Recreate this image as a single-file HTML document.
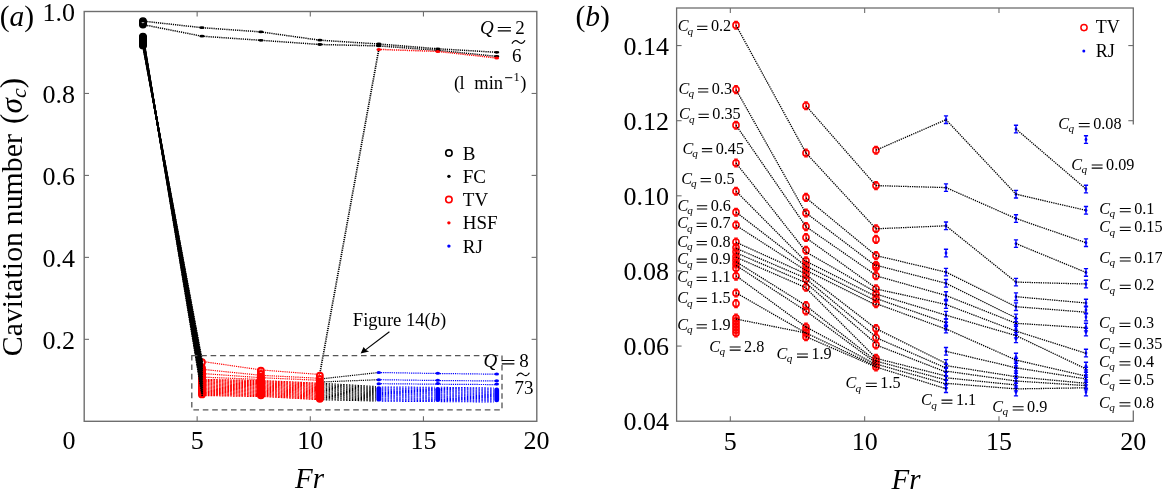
<!DOCTYPE html>
<html><head><meta charset="utf-8"><style>
html,body{margin:0;padding:0;background:#fff;width:1162px;height:495px;overflow:hidden}
svg{display:block;will-change:transform}
</style></head><body>
<svg width="1162" height="495" viewBox="0 0 1162 495">
<rect width="1162" height="495" fill="#fff"/>
<polyline fill="none" points="142.96,21.1 201.93,27.7 260.89,31.9 319.85,40.2 378.81,44 437.78,48.8 496.74,52.3" stroke="#000" stroke-width="1.5" stroke-dasharray="1.2,0.95"/>
<polyline fill="none" points="142.96,24.6 201.93,36.2 260.89,40.3 319.85,44.5 378.81,45.9 437.78,50.3 496.74,56.4" stroke="#000" stroke-width="1.5" stroke-dasharray="1.2,0.95"/>
<polyline fill="none" points="378.81,49.4 437.78,51.4 496.74,58" stroke="#f00" stroke-width="1.5" stroke-dasharray="1.2,0.95"/>
<line x1="319.85" y1="373.5" x2="378.81" y2="49.4" stroke="#000" stroke-width="1.7" stroke-dasharray="1.2,0.95"/>
<circle cx="142.96" cy="36.8" r="3.2" fill="none" stroke="#000" stroke-width="1.5"/>
<circle cx="142.96" cy="37.46" r="3.2" fill="none" stroke="#000" stroke-width="1.5"/>
<circle cx="142.96" cy="38.12" r="3.2" fill="none" stroke="#000" stroke-width="1.5"/>
<circle cx="142.96" cy="38.78" r="3.2" fill="none" stroke="#000" stroke-width="1.5"/>
<circle cx="142.96" cy="39.45" r="3.2" fill="none" stroke="#000" stroke-width="1.5"/>
<circle cx="142.96" cy="40.11" r="3.2" fill="none" stroke="#000" stroke-width="1.5"/>
<circle cx="142.96" cy="40.77" r="3.2" fill="none" stroke="#000" stroke-width="1.5"/>
<circle cx="142.96" cy="41.43" r="3.2" fill="none" stroke="#000" stroke-width="1.5"/>
<circle cx="142.96" cy="42.09" r="3.2" fill="none" stroke="#000" stroke-width="1.5"/>
<circle cx="142.96" cy="42.75" r="3.2" fill="none" stroke="#000" stroke-width="1.5"/>
<circle cx="142.96" cy="43.42" r="3.2" fill="none" stroke="#000" stroke-width="1.5"/>
<circle cx="142.96" cy="44.08" r="3.2" fill="none" stroke="#000" stroke-width="1.5"/>
<circle cx="142.96" cy="44.74" r="3.2" fill="none" stroke="#000" stroke-width="1.5"/>
<circle cx="142.96" cy="45.4" r="3.2" fill="none" stroke="#000" stroke-width="1.5"/>
<circle cx="142.96" cy="21.1" r="3.1" fill="none" stroke="#000" stroke-width="1.7"/>
<circle cx="142.96" cy="22.3" r="3.1" fill="none" stroke="#000" stroke-width="1.7"/>
<circle cx="142.96" cy="23.5" r="3.1" fill="none" stroke="#000" stroke-width="1.7"/>
<circle cx="142.96" cy="24.6" r="3.1" fill="none" stroke="#000" stroke-width="1.7"/>
<ellipse cx="201.93" cy="27.7" rx="2.6" ry="1.4" fill="#000"/>
<ellipse cx="260.89" cy="31.9" rx="2.6" ry="1.4" fill="#000"/>
<ellipse cx="319.85" cy="40.2" rx="2.6" ry="1.4" fill="#000"/>
<ellipse cx="378.81" cy="44" rx="2.6" ry="1.4" fill="#000"/>
<ellipse cx="437.78" cy="48.8" rx="2.6" ry="1.4" fill="#000"/>
<ellipse cx="496.74" cy="52.3" rx="2.6" ry="1.4" fill="#000"/>
<ellipse cx="201.93" cy="36.2" rx="2.6" ry="1.4" fill="#000"/>
<ellipse cx="260.89" cy="40.3" rx="2.6" ry="1.4" fill="#000"/>
<ellipse cx="319.85" cy="44.5" rx="2.6" ry="1.4" fill="#000"/>
<ellipse cx="378.81" cy="45.9" rx="2.6" ry="1.4" fill="#000"/>
<ellipse cx="437.78" cy="50.3" rx="2.6" ry="1.4" fill="#000"/>
<ellipse cx="496.74" cy="56.4" rx="2.6" ry="1.4" fill="#000"/>
<ellipse cx="378.81" cy="49.4" rx="2.4" ry="1.5" fill="#f00"/>
<ellipse cx="437.78" cy="51.4" rx="2.4" ry="1.5" fill="#f00"/>
<ellipse cx="496.74" cy="58" rx="2.4" ry="1.5" fill="#f00"/>
<line x1="201.93" y1="361.4" x2="260.89" y2="369.9" stroke="#ff0000" stroke-width="1.2" stroke-dasharray="1.2,0.95"/>
<line x1="201.93" y1="369.3" x2="260.89" y2="375.3" stroke="#ff0000" stroke-width="1.2" stroke-dasharray="1.2,0.95"/>
<line x1="201.93" y1="373.5" x2="260.89" y2="377.7" stroke="#ff0000" stroke-width="1.2" stroke-dasharray="1.2,0.95"/>
<line x1="201.93" y1="377.1" x2="260.89" y2="379.5" stroke="#ff0000" stroke-width="1.2" stroke-dasharray="1.2,0.95"/>
<line x1="260.89" y1="369.9" x2="319.85" y2="374.5" stroke="#ff0000" stroke-width="1.2" stroke-dasharray="1.2,0.95"/>
<line x1="260.89" y1="375.3" x2="319.85" y2="378.3" stroke="#ff0000" stroke-width="1.2" stroke-dasharray="1.2,0.95"/>
<line x1="260.89" y1="377.7" x2="319.85" y2="380.3" stroke="#ff0000" stroke-width="1.2" stroke-dasharray="1.2,0.95"/>
<line x1="319.85" y1="379" x2="378.81" y2="372.5" stroke="#000" stroke-width="1.2" stroke-dasharray="1.2,0.95"/>
<line x1="319.85" y1="382" x2="378.81" y2="379.7" stroke="#000" stroke-width="1.2" stroke-dasharray="1.2,0.95"/>
<line x1="378.81" y1="372.5" x2="437.78" y2="373.5" stroke="#0000ff" stroke-width="1.2" stroke-dasharray="1.2,0.95"/>
<line x1="437.78" y1="373.5" x2="496.74" y2="374.2" stroke="#0000ff" stroke-width="1.2" stroke-dasharray="1.2,0.95"/>
<line x1="378.81" y1="379.7" x2="437.78" y2="380.5" stroke="#0000ff" stroke-width="1.2" stroke-dasharray="1.2,0.95"/>
<line x1="437.78" y1="380.5" x2="496.74" y2="381" stroke="#0000ff" stroke-width="1.2" stroke-dasharray="1.2,0.95"/>
<line x1="378.81" y1="383.7" x2="437.78" y2="384.2" stroke="#0000ff" stroke-width="1.2" stroke-dasharray="1.2,0.95"/>
<line x1="437.78" y1="384.2" x2="496.74" y2="384.6" stroke="#0000ff" stroke-width="1.2" stroke-dasharray="1.2,0.95"/>
<line x1="204.93" y1="379.5" x2="257.89" y2="380.5" stroke="#ff0000" stroke-width="1.2" stroke-dasharray="1.8,1.0"/>
<line x1="204.93" y1="380.57" x2="257.89" y2="381.57" stroke="#ff0000" stroke-width="1.2" stroke-dasharray="1.8,1.0"/>
<line x1="204.93" y1="381.63" x2="257.89" y2="382.63" stroke="#ff0000" stroke-width="1.2" stroke-dasharray="1.8,1.0"/>
<line x1="204.93" y1="382.7" x2="257.89" y2="383.7" stroke="#ff0000" stroke-width="1.2" stroke-dasharray="1.8,1.0"/>
<line x1="204.93" y1="383.77" x2="257.89" y2="384.77" stroke="#ff0000" stroke-width="1.2" stroke-dasharray="1.8,1.0"/>
<line x1="204.93" y1="384.83" x2="257.89" y2="385.83" stroke="#ff0000" stroke-width="1.2" stroke-dasharray="1.8,1.0"/>
<line x1="204.93" y1="385.9" x2="257.89" y2="386.9" stroke="#ff0000" stroke-width="1.2" stroke-dasharray="1.8,1.0"/>
<line x1="204.93" y1="386.97" x2="257.89" y2="387.97" stroke="#ff0000" stroke-width="1.2" stroke-dasharray="1.8,1.0"/>
<line x1="204.93" y1="388.03" x2="257.89" y2="389.03" stroke="#ff0000" stroke-width="1.2" stroke-dasharray="1.8,1.0"/>
<line x1="204.93" y1="389.1" x2="257.89" y2="390.1" stroke="#ff0000" stroke-width="1.2" stroke-dasharray="1.8,1.0"/>
<line x1="204.93" y1="390.17" x2="257.89" y2="391.17" stroke="#ff0000" stroke-width="1.2" stroke-dasharray="1.8,1.0"/>
<line x1="204.93" y1="391.23" x2="257.89" y2="392.23" stroke="#ff0000" stroke-width="1.2" stroke-dasharray="1.8,1.0"/>
<line x1="204.93" y1="392.3" x2="257.89" y2="393.3" stroke="#ff0000" stroke-width="1.2" stroke-dasharray="1.8,1.0"/>
<line x1="204.93" y1="393.37" x2="257.89" y2="394.37" stroke="#ff0000" stroke-width="1.2" stroke-dasharray="1.8,1.0"/>
<line x1="204.93" y1="394.43" x2="257.89" y2="395.43" stroke="#ff0000" stroke-width="1.2" stroke-dasharray="1.8,1.0"/>
<line x1="204.93" y1="395.5" x2="257.89" y2="396.5" stroke="#ff0000" stroke-width="1.2" stroke-dasharray="1.8,1.0"/>
<line x1="263.89" y1="380.7" x2="316.85" y2="383.1" stroke="#ff0000" stroke-width="1.2" stroke-dasharray="1.8,1.0"/>
<line x1="263.89" y1="381.75" x2="316.85" y2="384.19" stroke="#ff0000" stroke-width="1.2" stroke-dasharray="1.8,1.0"/>
<line x1="263.89" y1="382.81" x2="316.85" y2="385.29" stroke="#ff0000" stroke-width="1.2" stroke-dasharray="1.8,1.0"/>
<line x1="263.89" y1="383.86" x2="316.85" y2="386.38" stroke="#ff0000" stroke-width="1.2" stroke-dasharray="1.8,1.0"/>
<line x1="263.89" y1="384.91" x2="316.85" y2="387.47" stroke="#ff0000" stroke-width="1.2" stroke-dasharray="1.8,1.0"/>
<line x1="263.89" y1="385.97" x2="316.85" y2="388.57" stroke="#ff0000" stroke-width="1.2" stroke-dasharray="1.8,1.0"/>
<line x1="263.89" y1="387.02" x2="316.85" y2="389.66" stroke="#ff0000" stroke-width="1.2" stroke-dasharray="1.8,1.0"/>
<line x1="263.89" y1="388.07" x2="316.85" y2="390.75" stroke="#ff0000" stroke-width="1.2" stroke-dasharray="1.8,1.0"/>
<line x1="263.89" y1="389.13" x2="316.85" y2="391.85" stroke="#ff0000" stroke-width="1.2" stroke-dasharray="1.8,1.0"/>
<line x1="263.89" y1="390.18" x2="316.85" y2="392.94" stroke="#ff0000" stroke-width="1.2" stroke-dasharray="1.8,1.0"/>
<line x1="263.89" y1="391.23" x2="316.85" y2="394.03" stroke="#ff0000" stroke-width="1.2" stroke-dasharray="1.8,1.0"/>
<line x1="263.89" y1="392.29" x2="316.85" y2="395.13" stroke="#ff0000" stroke-width="1.2" stroke-dasharray="1.8,1.0"/>
<line x1="263.89" y1="393.34" x2="316.85" y2="396.22" stroke="#ff0000" stroke-width="1.2" stroke-dasharray="1.8,1.0"/>
<line x1="263.89" y1="394.39" x2="316.85" y2="397.31" stroke="#ff0000" stroke-width="1.2" stroke-dasharray="1.8,1.0"/>
<line x1="263.89" y1="395.45" x2="316.85" y2="398.41" stroke="#ff0000" stroke-width="1.2" stroke-dasharray="1.8,1.0"/>
<line x1="263.89" y1="396.5" x2="316.85" y2="399.5" stroke="#ff0000" stroke-width="1.2" stroke-dasharray="1.8,1.0"/>
<line x1="322.85" y1="383.3" x2="375.81" y2="386.5" stroke="#000" stroke-width="1.05" stroke-dasharray="1.5,1.4"/>
<line x1="322.85" y1="384.48" x2="375.81" y2="387.54" stroke="#000" stroke-width="1.05" stroke-dasharray="1.5,1.4"/>
<line x1="322.85" y1="385.66" x2="375.81" y2="388.57" stroke="#000" stroke-width="1.05" stroke-dasharray="1.5,1.4"/>
<line x1="322.85" y1="386.84" x2="375.81" y2="389.61" stroke="#000" stroke-width="1.05" stroke-dasharray="1.5,1.4"/>
<line x1="322.85" y1="388.01" x2="375.81" y2="390.64" stroke="#000" stroke-width="1.05" stroke-dasharray="1.5,1.4"/>
<line x1="322.85" y1="389.19" x2="375.81" y2="391.68" stroke="#000" stroke-width="1.05" stroke-dasharray="1.5,1.4"/>
<line x1="322.85" y1="390.37" x2="375.81" y2="392.71" stroke="#000" stroke-width="1.05" stroke-dasharray="1.5,1.4"/>
<line x1="322.85" y1="391.55" x2="375.81" y2="393.75" stroke="#000" stroke-width="1.05" stroke-dasharray="1.5,1.4"/>
<line x1="322.85" y1="392.73" x2="375.81" y2="394.79" stroke="#000" stroke-width="1.05" stroke-dasharray="1.5,1.4"/>
<line x1="322.85" y1="393.91" x2="375.81" y2="395.82" stroke="#000" stroke-width="1.05" stroke-dasharray="1.5,1.4"/>
<line x1="322.85" y1="395.09" x2="375.81" y2="396.86" stroke="#000" stroke-width="1.05" stroke-dasharray="1.5,1.4"/>
<line x1="322.85" y1="396.26" x2="375.81" y2="397.89" stroke="#000" stroke-width="1.05" stroke-dasharray="1.5,1.4"/>
<line x1="322.85" y1="397.44" x2="375.81" y2="398.93" stroke="#000" stroke-width="1.05" stroke-dasharray="1.5,1.4"/>
<line x1="322.85" y1="398.62" x2="375.81" y2="399.96" stroke="#000" stroke-width="1.05" stroke-dasharray="1.5,1.4"/>
<line x1="322.85" y1="399.8" x2="375.81" y2="401" stroke="#000" stroke-width="1.05" stroke-dasharray="1.5,1.4"/>
<line x1="381.81" y1="386.9" x2="434.78" y2="387.3" stroke="#0000ff" stroke-width="1.05" stroke-dasharray="1.5,1.4"/>
<line x1="381.81" y1="388" x2="434.78" y2="388.4" stroke="#0000ff" stroke-width="1.05" stroke-dasharray="1.5,1.4"/>
<line x1="381.81" y1="389.1" x2="434.78" y2="389.5" stroke="#0000ff" stroke-width="1.05" stroke-dasharray="1.5,1.4"/>
<line x1="381.81" y1="390.2" x2="434.78" y2="390.6" stroke="#0000ff" stroke-width="1.05" stroke-dasharray="1.5,1.4"/>
<line x1="381.81" y1="391.3" x2="434.78" y2="391.7" stroke="#0000ff" stroke-width="1.05" stroke-dasharray="1.5,1.4"/>
<line x1="381.81" y1="392.4" x2="434.78" y2="392.8" stroke="#0000ff" stroke-width="1.05" stroke-dasharray="1.5,1.4"/>
<line x1="381.81" y1="393.5" x2="434.78" y2="393.9" stroke="#0000ff" stroke-width="1.05" stroke-dasharray="1.5,1.4"/>
<line x1="381.81" y1="394.6" x2="434.78" y2="395" stroke="#0000ff" stroke-width="1.05" stroke-dasharray="1.5,1.4"/>
<line x1="381.81" y1="395.7" x2="434.78" y2="396.1" stroke="#0000ff" stroke-width="1.05" stroke-dasharray="1.5,1.4"/>
<line x1="381.81" y1="396.8" x2="434.78" y2="397.2" stroke="#0000ff" stroke-width="1.05" stroke-dasharray="1.5,1.4"/>
<line x1="381.81" y1="397.9" x2="434.78" y2="398.3" stroke="#0000ff" stroke-width="1.05" stroke-dasharray="1.5,1.4"/>
<line x1="381.81" y1="399" x2="434.78" y2="399.4" stroke="#0000ff" stroke-width="1.05" stroke-dasharray="1.5,1.4"/>
<line x1="381.81" y1="400.1" x2="434.78" y2="400.5" stroke="#0000ff" stroke-width="1.05" stroke-dasharray="1.5,1.4"/>
<line x1="381.81" y1="401.2" x2="434.78" y2="401.6" stroke="#0000ff" stroke-width="1.05" stroke-dasharray="1.5,1.4"/>
<line x1="440.78" y1="387.3" x2="493.74" y2="388" stroke="#0000ff" stroke-width="1.05" stroke-dasharray="1.5,1.4"/>
<line x1="440.78" y1="388.4" x2="493.74" y2="389.08" stroke="#0000ff" stroke-width="1.05" stroke-dasharray="1.5,1.4"/>
<line x1="440.78" y1="389.5" x2="493.74" y2="390.15" stroke="#0000ff" stroke-width="1.05" stroke-dasharray="1.5,1.4"/>
<line x1="440.78" y1="390.6" x2="493.74" y2="391.23" stroke="#0000ff" stroke-width="1.05" stroke-dasharray="1.5,1.4"/>
<line x1="440.78" y1="391.7" x2="493.74" y2="392.31" stroke="#0000ff" stroke-width="1.05" stroke-dasharray="1.5,1.4"/>
<line x1="440.78" y1="392.8" x2="493.74" y2="393.38" stroke="#0000ff" stroke-width="1.05" stroke-dasharray="1.5,1.4"/>
<line x1="440.78" y1="393.9" x2="493.74" y2="394.46" stroke="#0000ff" stroke-width="1.05" stroke-dasharray="1.5,1.4"/>
<line x1="440.78" y1="395" x2="493.74" y2="395.54" stroke="#0000ff" stroke-width="1.05" stroke-dasharray="1.5,1.4"/>
<line x1="440.78" y1="396.1" x2="493.74" y2="396.62" stroke="#0000ff" stroke-width="1.05" stroke-dasharray="1.5,1.4"/>
<line x1="440.78" y1="397.2" x2="493.74" y2="397.69" stroke="#0000ff" stroke-width="1.05" stroke-dasharray="1.5,1.4"/>
<line x1="440.78" y1="398.3" x2="493.74" y2="398.77" stroke="#0000ff" stroke-width="1.05" stroke-dasharray="1.5,1.4"/>
<line x1="440.78" y1="399.4" x2="493.74" y2="399.85" stroke="#0000ff" stroke-width="1.05" stroke-dasharray="1.5,1.4"/>
<line x1="440.78" y1="400.5" x2="493.74" y2="400.92" stroke="#0000ff" stroke-width="1.05" stroke-dasharray="1.5,1.4"/>
<line x1="440.78" y1="401.6" x2="493.74" y2="402" stroke="#0000ff" stroke-width="1.05" stroke-dasharray="1.5,1.4"/>
<circle cx="201.93" cy="362.3" r="3.0" fill="none" stroke="#ff0000" stroke-width="1.9"/>
<circle cx="201.93" cy="368" r="3.0" fill="none" stroke="#ff0000" stroke-width="1.9"/>
<circle cx="201.93" cy="369.39" r="3.0" fill="none" stroke="#ff0000" stroke-width="1.9"/>
<circle cx="201.93" cy="370.78" r="3.0" fill="none" stroke="#ff0000" stroke-width="1.9"/>
<circle cx="201.93" cy="372.17" r="3.0" fill="none" stroke="#ff0000" stroke-width="1.9"/>
<circle cx="201.93" cy="373.56" r="3.0" fill="none" stroke="#ff0000" stroke-width="1.9"/>
<circle cx="201.93" cy="374.95" r="3.0" fill="none" stroke="#ff0000" stroke-width="1.9"/>
<circle cx="201.93" cy="376.34" r="3.0" fill="none" stroke="#ff0000" stroke-width="1.9"/>
<circle cx="201.93" cy="377.73" r="3.0" fill="none" stroke="#ff0000" stroke-width="1.9"/>
<circle cx="201.93" cy="379.12" r="3.0" fill="none" stroke="#ff0000" stroke-width="1.9"/>
<circle cx="201.93" cy="380.51" r="3.0" fill="none" stroke="#ff0000" stroke-width="1.9"/>
<circle cx="201.93" cy="381.9" r="3.0" fill="none" stroke="#ff0000" stroke-width="1.9"/>
<circle cx="201.93" cy="383.29" r="3.0" fill="none" stroke="#ff0000" stroke-width="1.9"/>
<circle cx="201.93" cy="384.68" r="3.0" fill="none" stroke="#ff0000" stroke-width="1.9"/>
<circle cx="201.93" cy="386.07" r="3.0" fill="none" stroke="#ff0000" stroke-width="1.9"/>
<circle cx="201.93" cy="387.46" r="3.0" fill="none" stroke="#ff0000" stroke-width="1.9"/>
<circle cx="201.93" cy="388.85" r="3.0" fill="none" stroke="#ff0000" stroke-width="1.9"/>
<circle cx="201.93" cy="390.24" r="3.0" fill="none" stroke="#ff0000" stroke-width="1.9"/>
<circle cx="201.93" cy="391.63" r="3.0" fill="none" stroke="#ff0000" stroke-width="1.9"/>
<circle cx="201.93" cy="393.02" r="3.0" fill="none" stroke="#ff0000" stroke-width="1.9"/>
<circle cx="201.93" cy="394.41" r="3.0" fill="none" stroke="#ff0000" stroke-width="1.9"/>
<circle cx="260.89" cy="370.7" r="3.0" fill="none" stroke="#ff0000" stroke-width="1.9"/>
<circle cx="260.89" cy="374" r="3.0" fill="none" stroke="#ff0000" stroke-width="1.9"/>
<circle cx="260.89" cy="377" r="3.0" fill="none" stroke="#ff0000" stroke-width="1.9"/>
<circle cx="260.89" cy="378.3" r="3.0" fill="none" stroke="#ff0000" stroke-width="1.9"/>
<circle cx="260.89" cy="379.6" r="3.0" fill="none" stroke="#ff0000" stroke-width="1.9"/>
<circle cx="260.89" cy="380.9" r="3.0" fill="none" stroke="#ff0000" stroke-width="1.9"/>
<circle cx="260.89" cy="382.2" r="3.0" fill="none" stroke="#ff0000" stroke-width="1.9"/>
<circle cx="260.89" cy="383.5" r="3.0" fill="none" stroke="#ff0000" stroke-width="1.9"/>
<circle cx="260.89" cy="384.8" r="3.0" fill="none" stroke="#ff0000" stroke-width="1.9"/>
<circle cx="260.89" cy="386.1" r="3.0" fill="none" stroke="#ff0000" stroke-width="1.9"/>
<circle cx="260.89" cy="387.4" r="3.0" fill="none" stroke="#ff0000" stroke-width="1.9"/>
<circle cx="260.89" cy="388.7" r="3.0" fill="none" stroke="#ff0000" stroke-width="1.9"/>
<circle cx="260.89" cy="390" r="3.0" fill="none" stroke="#ff0000" stroke-width="1.9"/>
<circle cx="260.89" cy="391.3" r="3.0" fill="none" stroke="#ff0000" stroke-width="1.9"/>
<circle cx="260.89" cy="392.6" r="3.0" fill="none" stroke="#ff0000" stroke-width="1.9"/>
<circle cx="260.89" cy="393.9" r="3.0" fill="none" stroke="#ff0000" stroke-width="1.9"/>
<circle cx="260.89" cy="395.2" r="3.0" fill="none" stroke="#ff0000" stroke-width="1.9"/>
<circle cx="319.85" cy="375.8" r="3.0" fill="none" stroke="#ff0000" stroke-width="1.9"/>
<circle cx="319.85" cy="379" r="3.0" fill="none" stroke="#ff0000" stroke-width="1.9"/>
<circle cx="319.85" cy="382" r="3.0" fill="none" stroke="#ff0000" stroke-width="1.9"/>
<circle cx="319.85" cy="383.2" r="3.0" fill="none" stroke="#ff0000" stroke-width="1.9"/>
<circle cx="319.85" cy="384.4" r="3.0" fill="none" stroke="#ff0000" stroke-width="1.9"/>
<circle cx="319.85" cy="385.6" r="3.0" fill="none" stroke="#ff0000" stroke-width="1.9"/>
<circle cx="319.85" cy="386.8" r="3.0" fill="none" stroke="#ff0000" stroke-width="1.9"/>
<circle cx="319.85" cy="388" r="3.0" fill="none" stroke="#ff0000" stroke-width="1.9"/>
<circle cx="319.85" cy="389.2" r="3.0" fill="none" stroke="#ff0000" stroke-width="1.9"/>
<circle cx="319.85" cy="390.4" r="3.0" fill="none" stroke="#ff0000" stroke-width="1.9"/>
<circle cx="319.85" cy="391.6" r="3.0" fill="none" stroke="#ff0000" stroke-width="1.9"/>
<circle cx="319.85" cy="392.8" r="3.0" fill="none" stroke="#ff0000" stroke-width="1.9"/>
<circle cx="319.85" cy="394" r="3.0" fill="none" stroke="#ff0000" stroke-width="1.9"/>
<circle cx="319.85" cy="395.2" r="3.0" fill="none" stroke="#ff0000" stroke-width="1.9"/>
<circle cx="319.85" cy="396.4" r="3.0" fill="none" stroke="#ff0000" stroke-width="1.9"/>
<circle cx="319.85" cy="397.6" r="3.0" fill="none" stroke="#ff0000" stroke-width="1.9"/>
<circle cx="319.85" cy="398.8" r="3.0" fill="none" stroke="#ff0000" stroke-width="1.9"/>
<ellipse cx="378.81" cy="372.5" rx="2.3" ry="1.5" fill="#0000ff"/>
<ellipse cx="378.81" cy="379.7" rx="2.3" ry="1.5" fill="#0000ff"/>
<ellipse cx="378.81" cy="383.7" rx="2.3" ry="1.5" fill="#0000ff"/>
<rect x="376.41" y="386.3" width="4.8" height="15.3" rx="2.2" fill="#0000ff"/>
<ellipse cx="437.78" cy="373.2" rx="2.3" ry="1.5" fill="#0000ff"/>
<ellipse cx="437.78" cy="380.3" rx="2.3" ry="1.5" fill="#0000ff"/>
<ellipse cx="437.78" cy="383.5" rx="2.3" ry="1.5" fill="#0000ff"/>
<rect x="435.38" y="387" width="4.8" height="15" rx="2.2" fill="#0000ff"/>
<ellipse cx="496.74" cy="373.9" rx="2.3" ry="1.5" fill="#0000ff"/>
<ellipse cx="496.74" cy="380.8" rx="2.3" ry="1.5" fill="#0000ff"/>
<ellipse cx="496.74" cy="384" rx="2.3" ry="1.5" fill="#0000ff"/>
<rect x="494.34" y="387.6" width="4.8" height="14.6" rx="2.2" fill="#0000ff"/>
<line x1="143.16" y1="37" x2="202.33" y2="396.5" stroke="#000" stroke-width="1.8" stroke-dasharray="1.5,0.9"/>
<line x1="143.16" y1="37.59" x2="202.33" y2="394.47" stroke="#000" stroke-width="1.8" stroke-dasharray="1.5,0.9"/>
<line x1="143.16" y1="38.18" x2="202.33" y2="392.44" stroke="#000" stroke-width="1.8" stroke-dasharray="1.5,0.9"/>
<line x1="143.16" y1="38.76" x2="202.33" y2="390.41" stroke="#000" stroke-width="1.8" stroke-dasharray="1.5,0.9"/>
<line x1="143.16" y1="39.35" x2="202.33" y2="388.38" stroke="#000" stroke-width="1.8" stroke-dasharray="1.5,0.9"/>
<line x1="143.16" y1="39.94" x2="202.33" y2="386.35" stroke="#000" stroke-width="1.8" stroke-dasharray="1.5,0.9"/>
<line x1="143.16" y1="40.53" x2="202.33" y2="384.32" stroke="#000" stroke-width="1.8" stroke-dasharray="1.5,0.9"/>
<line x1="143.16" y1="41.12" x2="202.33" y2="382.29" stroke="#000" stroke-width="1.8" stroke-dasharray="1.5,0.9"/>
<line x1="143.16" y1="41.71" x2="202.33" y2="380.26" stroke="#000" stroke-width="1.8" stroke-dasharray="1.5,0.9"/>
<line x1="143.16" y1="42.29" x2="202.33" y2="378.24" stroke="#000" stroke-width="1.8" stroke-dasharray="1.5,0.9"/>
<line x1="143.16" y1="42.88" x2="202.33" y2="376.21" stroke="#000" stroke-width="1.8" stroke-dasharray="1.5,0.9"/>
<line x1="143.16" y1="43.47" x2="202.33" y2="374.18" stroke="#000" stroke-width="1.8" stroke-dasharray="1.5,0.9"/>
<line x1="143.16" y1="44.06" x2="202.33" y2="372.15" stroke="#000" stroke-width="1.8" stroke-dasharray="1.5,0.9"/>
<line x1="143.16" y1="44.65" x2="202.33" y2="370.12" stroke="#000" stroke-width="1.8" stroke-dasharray="1.5,0.9"/>
<line x1="143.16" y1="45.24" x2="202.33" y2="368.09" stroke="#000" stroke-width="1.8" stroke-dasharray="1.5,0.9"/>
<line x1="143.16" y1="45.82" x2="202.33" y2="366.06" stroke="#000" stroke-width="1.8" stroke-dasharray="1.5,0.9"/>
<line x1="143.16" y1="46.41" x2="202.33" y2="364.03" stroke="#000" stroke-width="1.8" stroke-dasharray="1.5,0.9"/>
<line x1="143.16" y1="47" x2="202.33" y2="362" stroke="#000" stroke-width="1.8" stroke-dasharray="1.5,0.9"/>
<rect x="191.8" y="355.6" width="310.2" height="54.2" fill="none" stroke="#555" stroke-width="1.3" stroke-dasharray="5.6,3.8"/>
<rect x="84.2" y="11.5" width="452.6" height="409.8" fill="none" stroke="#6e6e6e" stroke-width="1.4"/>
<line x1="197.15" y1="421.3" x2="197.15" y2="416.3" stroke="#6e6e6e" stroke-width="1.1"/>
<line x1="197.15" y1="11.5" x2="197.15" y2="16.5" stroke="#6e6e6e" stroke-width="1.1"/>
<line x1="310.3" y1="421.3" x2="310.3" y2="416.3" stroke="#6e6e6e" stroke-width="1.1"/>
<line x1="310.3" y1="11.5" x2="310.3" y2="16.5" stroke="#6e6e6e" stroke-width="1.1"/>
<line x1="423.45" y1="421.3" x2="423.45" y2="416.3" stroke="#6e6e6e" stroke-width="1.1"/>
<line x1="423.45" y1="11.5" x2="423.45" y2="16.5" stroke="#6e6e6e" stroke-width="1.1"/>
<line x1="84" y1="339.34" x2="89" y2="339.34" stroke="#6e6e6e" stroke-width="1.1"/>
<line x1="536.6" y1="339.34" x2="531.6" y2="339.34" stroke="#6e6e6e" stroke-width="1.1"/>
<line x1="84" y1="257.38" x2="89" y2="257.38" stroke="#6e6e6e" stroke-width="1.1"/>
<line x1="536.6" y1="257.38" x2="531.6" y2="257.38" stroke="#6e6e6e" stroke-width="1.1"/>
<line x1="84" y1="175.42" x2="89" y2="175.42" stroke="#6e6e6e" stroke-width="1.1"/>
<line x1="536.6" y1="175.42" x2="531.6" y2="175.42" stroke="#6e6e6e" stroke-width="1.1"/>
<line x1="84" y1="93.46" x2="89" y2="93.46" stroke="#6e6e6e" stroke-width="1.1"/>
<line x1="536.6" y1="93.46" x2="531.6" y2="93.46" stroke="#6e6e6e" stroke-width="1.1"/>
<text x="74.9" y="21.1" font-size="26" text-anchor="end" style="font-family:'Liberation Serif',serif">1.0</text>
<text x="74.9" y="103.06" font-size="26" text-anchor="end" style="font-family:'Liberation Serif',serif">0.8</text>
<text x="74.9" y="185.02" font-size="26" text-anchor="end" style="font-family:'Liberation Serif',serif">0.6</text>
<text x="74.9" y="266.98" font-size="26" text-anchor="end" style="font-family:'Liberation Serif',serif">0.4</text>
<text x="74.9" y="348.94" font-size="26" text-anchor="end" style="font-family:'Liberation Serif',serif">0.2</text>
<text x="68.9" y="449.3" font-size="26" text-anchor="middle" style="font-family:'Liberation Serif',serif">0</text>
<text x="197.15" y="449.3" font-size="26" text-anchor="middle" style="font-family:'Liberation Serif',serif">5</text>
<text x="310.3" y="449.3" font-size="26" text-anchor="middle" style="font-family:'Liberation Serif',serif">10</text>
<text x="423.45" y="449.3" font-size="26" text-anchor="middle" style="font-family:'Liberation Serif',serif">15</text>
<text x="536.6" y="449.3" font-size="26" text-anchor="middle" style="font-family:'Liberation Serif',serif">20</text>
<text x="309.5" y="488.3" font-size="29" text-anchor="middle" style="font-family:'Liberation Serif',serif;font-style:italic">Fr</text>
<g transform="translate(21.8,0) rotate(-90)" style="font-family:'Liberation Serif',serif" font-size="29.8">
<text x="-356.2" y="0">Cavitation</text>
<text x="-225.2" y="0">number</text>
<text x="-123.9" y="0" font-size="31.2">(<tspan font-style="italic">σ</tspan><tspan font-style="italic" font-size="22" dy="4.3">c</tspan><tspan dy="-4.3">)</tspan></text>
</g>
<text x="-0.3" y="26.2" font-size="29.5" style="font-family:'Liberation Serif',serif">(<tspan font-style="italic">a</tspan>)</text>
<circle cx="448.9" cy="153.1" r="3.2" fill="#fff" stroke="#000" stroke-width="1.6"/>
<text x="462.8" y="159.7" font-size="19" text-anchor="start" style="font-family:'Liberation Serif',serif">B</text>
<ellipse cx="448.9" cy="176.35" rx="1.7" ry="1.7" fill="#000"/>
<text x="462.8" y="182.95" font-size="19" text-anchor="start" style="font-family:'Liberation Serif',serif">FC</text>
<circle cx="448.9" cy="199.6" r="3.2" fill="#fff" stroke="#ff0000" stroke-width="1.6"/>
<text x="462.8" y="206.2" font-size="19" text-anchor="start" style="font-family:'Liberation Serif',serif">TV</text>
<ellipse cx="448.9" cy="222.85" rx="1.7" ry="1.7" fill="#ff0000"/>
<text x="462.8" y="229.45" font-size="19" text-anchor="start" style="font-family:'Liberation Serif',serif">HSF</text>
<ellipse cx="448.9" cy="246.1" rx="1.7" ry="1.7" fill="#0000ff"/>
<text x="462.8" y="252.7" font-size="19" text-anchor="start" style="font-family:'Liberation Serif',serif">RJ</text>
<text x="479.9" y="34.0" font-size="19" style="font-family:'Liberation Serif',serif;font-style:italic">Q</text>
<path d="M497.8,27.5H510.9M497.8,30.9H510.9" stroke="#000" stroke-width="1.2"/>
<text x="515.2" y="34" font-size="19" text-anchor="start" style="font-family:'Liberation Serif',serif">2</text>
<path d="M511.9,43.6 C514.26,39.6 516.49,40.4 518.45,42 S522.64,44.4 525,40.4" fill="none" stroke="#000" stroke-width="1.2"/>
<text x="512.1" y="62.4" font-size="19" text-anchor="start" style="font-family:'Liberation Serif',serif">6</text>
<text x="453.9" y="88.6" font-size="18.5" text-anchor="start" style="font-family:'Liberation Serif',serif">(</text>
<text x="459.6" y="88.6" font-size="18.5" text-anchor="start" style="font-family:'Liberation Serif',serif">l</text>
<text x="474.3" y="88.6" font-size="18.5" text-anchor="start" style="font-family:'Liberation Serif',serif">min</text>
<line x1="505.1" y1="77.7" x2="512.3" y2="77.7" stroke="#000" stroke-width="1.0"/>
<text x="513.6" y="81.3" font-size="12.5" text-anchor="start" style="font-family:'Liberation Serif',serif">1</text>
<text x="520.3" y="88.6" font-size="18.5" text-anchor="start" style="font-family:'Liberation Serif',serif">)</text>
<text x="483.6" y="366.6" font-size="19" style="font-family:'Liberation Serif',serif;font-style:italic">Q</text>
<path d="M501.8,360.5H514.4M501.8,363.9H514.4" stroke="#000" stroke-width="1.2"/>
<text x="519.3" y="366.8" font-size="19" text-anchor="start" style="font-family:'Liberation Serif',serif">8</text>
<path d="M516.8,376 C519.07,372 521.21,372.8 523.1,374.4 S527.13,376.8 529.4,372.8" fill="none" stroke="#000" stroke-width="1.2"/>
<text x="514.6" y="394.2" font-size="19" text-anchor="start" style="font-family:'Liberation Serif',serif">73</text>
<text x="352.8" y="325.8" font-size="18.6" style="font-family:'Liberation Serif',serif">Figure 14(<tspan font-style="italic">b</tspan>)</text>
<line x1="389.4" y1="331.7" x2="364.5" y2="350.6" stroke="#000" stroke-width="1.15"/>
<path d="M360.6,353.6 L363.6,346.9 Q365.2,350.2 369.1,351.4 Z" fill="#000"/>
<path d="M734.2,21.3h3.6M734.2,29.1h3.6M736,21.3v7.8" stroke="#ff0000" stroke-width="1.3"/>
<circle cx="736" cy="25.2" r="3.05" fill="none" stroke="#ff0000" stroke-width="1.6"/>
<path d="M734.2,85.7h3.6M734.2,93.5h3.6M736,85.7v7.8" stroke="#ff0000" stroke-width="1.3"/>
<circle cx="736" cy="89.6" r="3.05" fill="none" stroke="#ff0000" stroke-width="1.6"/>
<path d="M734.2,121.3h3.6M734.2,129.1h3.6M736,121.3v7.8" stroke="#ff0000" stroke-width="1.3"/>
<circle cx="736" cy="125.2" r="3.05" fill="none" stroke="#ff0000" stroke-width="1.6"/>
<path d="M734.2,159.1h3.6M734.2,166.9h3.6M736,159.1v7.8" stroke="#ff0000" stroke-width="1.3"/>
<circle cx="736" cy="163" r="3.05" fill="none" stroke="#ff0000" stroke-width="1.6"/>
<path d="M734.2,187.4h3.6M734.2,195.2h3.6M736,187.4v7.8" stroke="#ff0000" stroke-width="1.3"/>
<circle cx="736" cy="191.3" r="3.05" fill="none" stroke="#ff0000" stroke-width="1.6"/>
<path d="M734.2,208.3h3.6M734.2,216.1h3.6M736,208.3v7.8" stroke="#ff0000" stroke-width="1.3"/>
<circle cx="736" cy="212.2" r="3.05" fill="none" stroke="#ff0000" stroke-width="1.6"/>
<path d="M734.2,221.1h3.6M734.2,228.9h3.6M736,221.1v7.8" stroke="#ff0000" stroke-width="1.3"/>
<circle cx="736" cy="225" r="3.05" fill="none" stroke="#ff0000" stroke-width="1.6"/>
<path d="M734.2,238.1h3.6M734.2,245.9h3.6M736,238.1v7.8" stroke="#ff0000" stroke-width="1.3"/>
<circle cx="736" cy="242" r="3.05" fill="none" stroke="#ff0000" stroke-width="1.6"/>
<path d="M734.2,243.7h3.6M734.2,251.5h3.6M736,243.7v7.8" stroke="#ff0000" stroke-width="1.3"/>
<circle cx="736" cy="247.6" r="3.05" fill="none" stroke="#ff0000" stroke-width="1.6"/>
<path d="M734.2,247.9h3.6M734.2,255.7h3.6M736,247.9v7.8" stroke="#ff0000" stroke-width="1.3"/>
<circle cx="736" cy="251.8" r="3.05" fill="none" stroke="#ff0000" stroke-width="1.6"/>
<path d="M734.2,252.8h3.6M734.2,260.6h3.6M736,252.8v7.8" stroke="#ff0000" stroke-width="1.3"/>
<circle cx="736" cy="256.7" r="3.05" fill="none" stroke="#ff0000" stroke-width="1.6"/>
<path d="M734.2,256.4h3.6M734.2,264.2h3.6M736,256.4v7.8" stroke="#ff0000" stroke-width="1.3"/>
<circle cx="736" cy="260.3" r="3.05" fill="none" stroke="#ff0000" stroke-width="1.6"/>
<path d="M734.2,260.1h3.6M734.2,267.9h3.6M736,260.1v7.8" stroke="#ff0000" stroke-width="1.3"/>
<circle cx="736" cy="264" r="3.05" fill="none" stroke="#ff0000" stroke-width="1.6"/>
<path d="M734.2,264h3.6M734.2,271.8h3.6M736,264v7.8" stroke="#ff0000" stroke-width="1.3"/>
<circle cx="736" cy="267.9" r="3.05" fill="none" stroke="#ff0000" stroke-width="1.6"/>
<path d="M734.2,272.2h3.6M734.2,280h3.6M736,272.2v7.8" stroke="#ff0000" stroke-width="1.3"/>
<circle cx="736" cy="276.1" r="3.05" fill="none" stroke="#ff0000" stroke-width="1.6"/>
<path d="M734.2,289.1h3.6M734.2,296.9h3.6M736,289.1v7.8" stroke="#ff0000" stroke-width="1.3"/>
<circle cx="736" cy="293" r="3.05" fill="none" stroke="#ff0000" stroke-width="1.6"/>
<path d="M734.2,299.7h3.6M734.2,307.5h3.6M736,299.7v7.8" stroke="#ff0000" stroke-width="1.3"/>
<circle cx="736" cy="303.6" r="3.05" fill="none" stroke="#ff0000" stroke-width="1.6"/>
<path d="M734.2,314.1h3.6M734.2,321.9h3.6M736,314.1v7.8" stroke="#ff0000" stroke-width="1.3"/>
<circle cx="736" cy="318" r="3.05" fill="none" stroke="#ff0000" stroke-width="1.6"/>
<path d="M734.2,317.1h3.6M734.2,324.9h3.6M736,317.1v7.8" stroke="#ff0000" stroke-width="1.3"/>
<circle cx="736" cy="321" r="3.05" fill="none" stroke="#ff0000" stroke-width="1.6"/>
<path d="M734.2,320.1h3.6M734.2,327.9h3.6M736,320.1v7.8" stroke="#ff0000" stroke-width="1.3"/>
<circle cx="736" cy="324" r="3.05" fill="none" stroke="#ff0000" stroke-width="1.6"/>
<path d="M734.2,323.1h3.6M734.2,330.9h3.6M736,323.1v7.8" stroke="#ff0000" stroke-width="1.3"/>
<circle cx="736" cy="327" r="3.05" fill="none" stroke="#ff0000" stroke-width="1.6"/>
<path d="M734.2,326.1h3.6M734.2,333.9h3.6M736,326.1v7.8" stroke="#ff0000" stroke-width="1.3"/>
<circle cx="736" cy="330" r="3.05" fill="none" stroke="#ff0000" stroke-width="1.6"/>
<path d="M734.2,329.1h3.6M734.2,336.9h3.6M736,329.1v7.8" stroke="#ff0000" stroke-width="1.3"/>
<circle cx="736" cy="333" r="3.05" fill="none" stroke="#ff0000" stroke-width="1.6"/>
<path d="M804.19,101.9h3.6M804.19,109.7h3.6M805.99,101.9v7.8" stroke="#ff0000" stroke-width="1.3"/>
<circle cx="805.99" cy="105.8" r="3.05" fill="none" stroke="#ff0000" stroke-width="1.6"/>
<path d="M804.19,149.1h3.6M804.19,156.9h3.6M805.99,149.1v7.8" stroke="#ff0000" stroke-width="1.3"/>
<circle cx="805.99" cy="153" r="3.05" fill="none" stroke="#ff0000" stroke-width="1.6"/>
<path d="M804.19,193.5h3.6M804.19,201.3h3.6M805.99,193.5v7.8" stroke="#ff0000" stroke-width="1.3"/>
<circle cx="805.99" cy="197.4" r="3.05" fill="none" stroke="#ff0000" stroke-width="1.6"/>
<path d="M804.19,209.1h3.6M804.19,216.9h3.6M805.99,209.1v7.8" stroke="#ff0000" stroke-width="1.3"/>
<circle cx="805.99" cy="213" r="3.05" fill="none" stroke="#ff0000" stroke-width="1.6"/>
<path d="M804.19,222.7h3.6M804.19,230.5h3.6M805.99,222.7v7.8" stroke="#ff0000" stroke-width="1.3"/>
<circle cx="805.99" cy="226.6" r="3.05" fill="none" stroke="#ff0000" stroke-width="1.6"/>
<path d="M804.19,233.6h3.6M804.19,241.4h3.6M805.99,233.6v7.8" stroke="#ff0000" stroke-width="1.3"/>
<circle cx="805.99" cy="237.5" r="3.05" fill="none" stroke="#ff0000" stroke-width="1.6"/>
<path d="M804.19,246.4h3.6M804.19,254.2h3.6M805.99,246.4v7.8" stroke="#ff0000" stroke-width="1.3"/>
<circle cx="805.99" cy="250.3" r="3.05" fill="none" stroke="#ff0000" stroke-width="1.6"/>
<path d="M804.19,257h3.6M804.19,264.8h3.6M805.99,257v7.8" stroke="#ff0000" stroke-width="1.3"/>
<circle cx="805.99" cy="260.9" r="3.05" fill="none" stroke="#ff0000" stroke-width="1.6"/>
<path d="M804.19,261.6h3.6M804.19,269.4h3.6M805.99,261.6v7.8" stroke="#ff0000" stroke-width="1.3"/>
<circle cx="805.99" cy="265.5" r="3.05" fill="none" stroke="#ff0000" stroke-width="1.6"/>
<path d="M804.19,266.1h3.6M804.19,273.9h3.6M805.99,266.1v7.8" stroke="#ff0000" stroke-width="1.3"/>
<circle cx="805.99" cy="270" r="3.05" fill="none" stroke="#ff0000" stroke-width="1.6"/>
<path d="M804.19,270.6h3.6M804.19,278.4h3.6M805.99,270.6v7.8" stroke="#ff0000" stroke-width="1.3"/>
<circle cx="805.99" cy="274.5" r="3.05" fill="none" stroke="#ff0000" stroke-width="1.6"/>
<path d="M804.19,275.1h3.6M804.19,282.9h3.6M805.99,275.1v7.8" stroke="#ff0000" stroke-width="1.3"/>
<circle cx="805.99" cy="279" r="3.05" fill="none" stroke="#ff0000" stroke-width="1.6"/>
<path d="M804.19,283.4h3.6M804.19,291.2h3.6M805.99,283.4v7.8" stroke="#ff0000" stroke-width="1.3"/>
<circle cx="805.99" cy="287.3" r="3.05" fill="none" stroke="#ff0000" stroke-width="1.6"/>
<path d="M804.19,301.6h3.6M804.19,309.4h3.6M805.99,301.6v7.8" stroke="#ff0000" stroke-width="1.3"/>
<circle cx="805.99" cy="305.5" r="3.05" fill="none" stroke="#ff0000" stroke-width="1.6"/>
<path d="M804.19,307.1h3.6M804.19,314.9h3.6M805.99,307.1v7.8" stroke="#ff0000" stroke-width="1.3"/>
<circle cx="805.99" cy="311" r="3.05" fill="none" stroke="#ff0000" stroke-width="1.6"/>
<path d="M804.19,323.1h3.6M804.19,330.9h3.6M805.99,323.1v7.8" stroke="#ff0000" stroke-width="1.3"/>
<circle cx="805.99" cy="327" r="3.05" fill="none" stroke="#ff0000" stroke-width="1.6"/>
<path d="M804.19,326.1h3.6M804.19,333.9h3.6M805.99,326.1v7.8" stroke="#ff0000" stroke-width="1.3"/>
<circle cx="805.99" cy="330" r="3.05" fill="none" stroke="#ff0000" stroke-width="1.6"/>
<path d="M804.19,329.1h3.6M804.19,336.9h3.6M805.99,329.1v7.8" stroke="#ff0000" stroke-width="1.3"/>
<circle cx="805.99" cy="333" r="3.05" fill="none" stroke="#ff0000" stroke-width="1.6"/>
<path d="M804.19,332.8h3.6M804.19,340.6h3.6M805.99,332.8v7.8" stroke="#ff0000" stroke-width="1.3"/>
<circle cx="805.99" cy="336.7" r="3.05" fill="none" stroke="#ff0000" stroke-width="1.6"/>
<path d="M874.19,146.3h3.6M874.19,154.1h3.6M875.99,146.3v7.8" stroke="#ff0000" stroke-width="1.3"/>
<circle cx="875.99" cy="150.2" r="3.05" fill="none" stroke="#ff0000" stroke-width="1.6"/>
<path d="M874.19,181.7h3.6M874.19,189.5h3.6M875.99,181.7v7.8" stroke="#ff0000" stroke-width="1.3"/>
<circle cx="875.99" cy="185.6" r="3.05" fill="none" stroke="#ff0000" stroke-width="1.6"/>
<path d="M874.19,224.9h3.6M874.19,232.7h3.6M875.99,224.9v7.8" stroke="#ff0000" stroke-width="1.3"/>
<circle cx="875.99" cy="228.8" r="3.05" fill="none" stroke="#ff0000" stroke-width="1.6"/>
<path d="M874.19,235.5h3.6M874.19,243.3h3.6M875.99,235.5v7.8" stroke="#ff0000" stroke-width="1.3"/>
<circle cx="875.99" cy="239.4" r="3.05" fill="none" stroke="#ff0000" stroke-width="1.6"/>
<path d="M874.19,251.6h3.6M874.19,259.4h3.6M875.99,251.6v7.8" stroke="#ff0000" stroke-width="1.3"/>
<circle cx="875.99" cy="255.5" r="3.05" fill="none" stroke="#ff0000" stroke-width="1.6"/>
<path d="M874.19,261.3h3.6M874.19,269.1h3.6M875.99,261.3v7.8" stroke="#ff0000" stroke-width="1.3"/>
<circle cx="875.99" cy="265.2" r="3.05" fill="none" stroke="#ff0000" stroke-width="1.6"/>
<path d="M874.19,263.4h3.6M874.19,271.2h3.6M875.99,263.4v7.8" stroke="#ff0000" stroke-width="1.3"/>
<circle cx="875.99" cy="267.3" r="3.05" fill="none" stroke="#ff0000" stroke-width="1.6"/>
<path d="M874.19,271.9h3.6M874.19,279.7h3.6M875.99,271.9v7.8" stroke="#ff0000" stroke-width="1.3"/>
<circle cx="875.99" cy="275.8" r="3.05" fill="none" stroke="#ff0000" stroke-width="1.6"/>
<path d="M874.19,284.9h3.6M874.19,292.7h3.6M875.99,284.9v7.8" stroke="#ff0000" stroke-width="1.3"/>
<circle cx="875.99" cy="288.8" r="3.05" fill="none" stroke="#ff0000" stroke-width="1.6"/>
<path d="M874.19,290.1h3.6M874.19,297.9h3.6M875.99,290.1v7.8" stroke="#ff0000" stroke-width="1.3"/>
<circle cx="875.99" cy="294" r="3.05" fill="none" stroke="#ff0000" stroke-width="1.6"/>
<path d="M874.19,294.6h3.6M874.19,302.4h3.6M875.99,294.6v7.8" stroke="#ff0000" stroke-width="1.3"/>
<circle cx="875.99" cy="298.5" r="3.05" fill="none" stroke="#ff0000" stroke-width="1.6"/>
<path d="M874.19,299.7h3.6M874.19,307.5h3.6M875.99,299.7v7.8" stroke="#ff0000" stroke-width="1.3"/>
<circle cx="875.99" cy="303.6" r="3.05" fill="none" stroke="#ff0000" stroke-width="1.6"/>
<path d="M874.19,324.7h3.6M874.19,332.5h3.6M875.99,324.7v7.8" stroke="#ff0000" stroke-width="1.3"/>
<circle cx="875.99" cy="328.6" r="3.05" fill="none" stroke="#ff0000" stroke-width="1.6"/>
<path d="M874.19,333.7h3.6M874.19,341.5h3.6M875.99,333.7v7.8" stroke="#ff0000" stroke-width="1.3"/>
<circle cx="875.99" cy="337.6" r="3.05" fill="none" stroke="#ff0000" stroke-width="1.6"/>
<path d="M874.19,341h3.6M874.19,348.8h3.6M875.99,341v7.8" stroke="#ff0000" stroke-width="1.3"/>
<circle cx="875.99" cy="344.9" r="3.05" fill="none" stroke="#ff0000" stroke-width="1.6"/>
<path d="M874.19,354.4h3.6M874.19,362.2h3.6M875.99,354.4v7.8" stroke="#ff0000" stroke-width="1.3"/>
<circle cx="875.99" cy="358.3" r="3.05" fill="none" stroke="#ff0000" stroke-width="1.6"/>
<path d="M874.19,357.1h3.6M874.19,364.9h3.6M875.99,357.1v7.8" stroke="#ff0000" stroke-width="1.3"/>
<circle cx="875.99" cy="361" r="3.05" fill="none" stroke="#ff0000" stroke-width="1.6"/>
<path d="M874.19,360.1h3.6M874.19,367.9h3.6M875.99,360.1v7.8" stroke="#ff0000" stroke-width="1.3"/>
<circle cx="875.99" cy="364" r="3.05" fill="none" stroke="#ff0000" stroke-width="1.6"/>
<path d="M874.19,363.1h3.6M874.19,370.9h3.6M875.99,363.1v7.8" stroke="#ff0000" stroke-width="1.3"/>
<circle cx="875.99" cy="367" r="3.05" fill="none" stroke="#ff0000" stroke-width="1.6"/>
<path d="M943.89,115.9h4.2M943.89,123.5h4.2M945.99,115.9v7.6" stroke="#0000ff" stroke-width="1.35" fill="none"/>
<ellipse cx="945.99" cy="119.7" rx="1.4" ry="1.7" fill="#0000ff"/>
<path d="M943.89,183.8h4.2M943.89,191.4h4.2M945.99,183.8v7.6" stroke="#0000ff" stroke-width="1.35" fill="none"/>
<ellipse cx="945.99" cy="187.6" rx="1.4" ry="1.7" fill="#0000ff"/>
<path d="M943.89,222h4.2M943.89,229.6h4.2M945.99,222v7.6" stroke="#0000ff" stroke-width="1.35" fill="none"/>
<ellipse cx="945.99" cy="225.8" rx="1.4" ry="1.7" fill="#0000ff"/>
<path d="M943.89,249.2h4.2M943.89,256.8h4.2M945.99,249.2v7.6" stroke="#0000ff" stroke-width="1.35" fill="none"/>
<ellipse cx="945.99" cy="253" rx="1.4" ry="1.7" fill="#0000ff"/>
<path d="M943.89,268.3h4.2M943.89,275.9h4.2M945.99,268.3v7.6" stroke="#0000ff" stroke-width="1.35" fill="none"/>
<ellipse cx="945.99" cy="272.1" rx="1.4" ry="1.7" fill="#0000ff"/>
<path d="M943.89,279.5h4.2M943.89,287.1h4.2M945.99,279.5v7.6" stroke="#0000ff" stroke-width="1.35" fill="none"/>
<ellipse cx="945.99" cy="283.3" rx="1.4" ry="1.7" fill="#0000ff"/>
<path d="M943.89,291.7h4.2M943.89,299.3h4.2M945.99,291.7v7.6" stroke="#0000ff" stroke-width="1.35" fill="none"/>
<ellipse cx="945.99" cy="295.5" rx="1.4" ry="1.7" fill="#0000ff"/>
<path d="M943.89,300.7h4.2M943.89,308.3h4.2M945.99,300.7v7.6" stroke="#0000ff" stroke-width="1.35" fill="none"/>
<ellipse cx="945.99" cy="304.5" rx="1.4" ry="1.7" fill="#0000ff"/>
<path d="M943.89,311.4h4.2M943.89,319h4.2M945.99,311.4v7.6" stroke="#0000ff" stroke-width="1.35" fill="none"/>
<ellipse cx="945.99" cy="315.2" rx="1.4" ry="1.7" fill="#0000ff"/>
<path d="M943.89,318.9h4.2M943.89,326.5h4.2M945.99,318.9v7.6" stroke="#0000ff" stroke-width="1.35" fill="none"/>
<ellipse cx="945.99" cy="322.7" rx="1.4" ry="1.7" fill="#0000ff"/>
<path d="M943.89,322.2h4.2M943.89,329.8h4.2M945.99,322.2v7.6" stroke="#0000ff" stroke-width="1.35" fill="none"/>
<ellipse cx="945.99" cy="326" rx="1.4" ry="1.7" fill="#0000ff"/>
<path d="M943.89,325.2h4.2M943.89,332.8h4.2M945.99,325.2v7.6" stroke="#0000ff" stroke-width="1.35" fill="none"/>
<ellipse cx="945.99" cy="329" rx="1.4" ry="1.7" fill="#0000ff"/>
<path d="M943.89,347.5h4.2M943.89,355.1h4.2M945.99,347.5v7.6" stroke="#0000ff" stroke-width="1.35" fill="none"/>
<ellipse cx="945.99" cy="351.3" rx="1.4" ry="1.7" fill="#0000ff"/>
<path d="M943.89,359.6h4.2M943.89,367.2h4.2M945.99,359.6v7.6" stroke="#0000ff" stroke-width="1.35" fill="none"/>
<ellipse cx="945.99" cy="363.4" rx="1.4" ry="1.7" fill="#0000ff"/>
<path d="M943.89,364.2h4.2M943.89,371.8h4.2M945.99,364.2v7.6" stroke="#0000ff" stroke-width="1.35" fill="none"/>
<ellipse cx="945.99" cy="368" rx="1.4" ry="1.7" fill="#0000ff"/>
<path d="M943.89,368.2h4.2M943.89,375.8h4.2M945.99,368.2v7.6" stroke="#0000ff" stroke-width="1.35" fill="none"/>
<ellipse cx="945.99" cy="372" rx="1.4" ry="1.7" fill="#0000ff"/>
<path d="M943.89,372.2h4.2M943.89,379.8h4.2M945.99,372.2v7.6" stroke="#0000ff" stroke-width="1.35" fill="none"/>
<ellipse cx="945.99" cy="376" rx="1.4" ry="1.7" fill="#0000ff"/>
<path d="M943.89,376.2h4.2M943.89,383.8h4.2M945.99,376.2v7.6" stroke="#0000ff" stroke-width="1.35" fill="none"/>
<ellipse cx="945.99" cy="380" rx="1.4" ry="1.7" fill="#0000ff"/>
<path d="M943.89,380.2h4.2M943.89,387.8h4.2M945.99,380.2v7.6" stroke="#0000ff" stroke-width="1.35" fill="none"/>
<ellipse cx="945.99" cy="384" rx="1.4" ry="1.7" fill="#0000ff"/>
<path d="M943.89,384.9h4.2M943.89,392.5h4.2M945.99,384.9v7.6" stroke="#0000ff" stroke-width="1.35" fill="none"/>
<ellipse cx="945.99" cy="388.7" rx="1.4" ry="1.7" fill="#0000ff"/>
<path d="M1013.88,125.2h4.2M1013.88,132.8h4.2M1015.98,125.2v7.6" stroke="#0000ff" stroke-width="1.35" fill="none"/>
<ellipse cx="1015.98" cy="129" rx="1.4" ry="1.7" fill="#0000ff"/>
<path d="M1013.88,190.4h4.2M1013.88,198h4.2M1015.98,190.4v7.6" stroke="#0000ff" stroke-width="1.35" fill="none"/>
<ellipse cx="1015.98" cy="194.2" rx="1.4" ry="1.7" fill="#0000ff"/>
<path d="M1013.88,214.7h4.2M1013.88,222.3h4.2M1015.98,214.7v7.6" stroke="#0000ff" stroke-width="1.35" fill="none"/>
<ellipse cx="1015.98" cy="218.5" rx="1.4" ry="1.7" fill="#0000ff"/>
<path d="M1013.88,239.8h4.2M1013.88,247.4h4.2M1015.98,239.8v7.6" stroke="#0000ff" stroke-width="1.35" fill="none"/>
<ellipse cx="1015.98" cy="243.6" rx="1.4" ry="1.7" fill="#0000ff"/>
<path d="M1013.88,278.3h4.2M1013.88,285.9h4.2M1015.98,278.3v7.6" stroke="#0000ff" stroke-width="1.35" fill="none"/>
<ellipse cx="1015.98" cy="282.1" rx="1.4" ry="1.7" fill="#0000ff"/>
<path d="M1013.88,292.9h4.2M1013.88,300.5h4.2M1015.98,292.9v7.6" stroke="#0000ff" stroke-width="1.35" fill="none"/>
<ellipse cx="1015.98" cy="296.7" rx="1.4" ry="1.7" fill="#0000ff"/>
<path d="M1013.88,302.9h4.2M1013.88,310.5h4.2M1015.98,302.9v7.6" stroke="#0000ff" stroke-width="1.35" fill="none"/>
<ellipse cx="1015.98" cy="306.7" rx="1.4" ry="1.7" fill="#0000ff"/>
<path d="M1013.88,314.1h4.2M1013.88,321.7h4.2M1015.98,314.1v7.6" stroke="#0000ff" stroke-width="1.35" fill="none"/>
<ellipse cx="1015.98" cy="317.9" rx="1.4" ry="1.7" fill="#0000ff"/>
<path d="M1013.88,318.6h4.2M1013.88,326.2h4.2M1015.98,318.6v7.6" stroke="#0000ff" stroke-width="1.35" fill="none"/>
<ellipse cx="1015.98" cy="322.4" rx="1.4" ry="1.7" fill="#0000ff"/>
<path d="M1013.88,324.7h4.2M1013.88,332.3h4.2M1015.98,324.7v7.6" stroke="#0000ff" stroke-width="1.35" fill="none"/>
<ellipse cx="1015.98" cy="328.5" rx="1.4" ry="1.7" fill="#0000ff"/>
<path d="M1013.88,330.2h4.2M1013.88,337.8h4.2M1015.98,330.2v7.6" stroke="#0000ff" stroke-width="1.35" fill="none"/>
<ellipse cx="1015.98" cy="334" rx="1.4" ry="1.7" fill="#0000ff"/>
<path d="M1013.88,335h4.2M1013.88,342.6h4.2M1015.98,335v7.6" stroke="#0000ff" stroke-width="1.35" fill="none"/>
<ellipse cx="1015.98" cy="338.8" rx="1.4" ry="1.7" fill="#0000ff"/>
<path d="M1013.88,353.2h4.2M1013.88,360.8h4.2M1015.98,353.2v7.6" stroke="#0000ff" stroke-width="1.35" fill="none"/>
<ellipse cx="1015.98" cy="357" rx="1.4" ry="1.7" fill="#0000ff"/>
<path d="M1013.88,358.2h4.2M1013.88,365.8h4.2M1015.98,358.2v7.6" stroke="#0000ff" stroke-width="1.35" fill="none"/>
<ellipse cx="1015.98" cy="362" rx="1.4" ry="1.7" fill="#0000ff"/>
<path d="M1013.88,363.2h4.2M1013.88,370.8h4.2M1015.98,363.2v7.6" stroke="#0000ff" stroke-width="1.35" fill="none"/>
<ellipse cx="1015.98" cy="367" rx="1.4" ry="1.7" fill="#0000ff"/>
<path d="M1013.88,368.2h4.2M1013.88,375.8h4.2M1015.98,368.2v7.6" stroke="#0000ff" stroke-width="1.35" fill="none"/>
<ellipse cx="1015.98" cy="372" rx="1.4" ry="1.7" fill="#0000ff"/>
<path d="M1013.88,373.2h4.2M1013.88,380.8h4.2M1015.98,373.2v7.6" stroke="#0000ff" stroke-width="1.35" fill="none"/>
<ellipse cx="1015.98" cy="377" rx="1.4" ry="1.7" fill="#0000ff"/>
<path d="M1013.88,378.2h4.2M1013.88,385.8h4.2M1015.98,378.2v7.6" stroke="#0000ff" stroke-width="1.35" fill="none"/>
<ellipse cx="1015.98" cy="382" rx="1.4" ry="1.7" fill="#0000ff"/>
<path d="M1013.88,383.2h4.2M1013.88,390.8h4.2M1015.98,383.2v7.6" stroke="#0000ff" stroke-width="1.35" fill="none"/>
<ellipse cx="1015.98" cy="387" rx="1.4" ry="1.7" fill="#0000ff"/>
<path d="M1013.88,388.2h4.2M1013.88,395.8h4.2M1015.98,388.2v7.6" stroke="#0000ff" stroke-width="1.35" fill="none"/>
<ellipse cx="1015.98" cy="392" rx="1.4" ry="1.7" fill="#0000ff"/>
<path d="M1083.88,135.7h4.2M1083.88,143.3h4.2M1085.98,135.7v7.6" stroke="#0000ff" stroke-width="1.35" fill="none"/>
<ellipse cx="1085.98" cy="139.5" rx="1.4" ry="1.7" fill="#0000ff"/>
<path d="M1083.88,185.2h4.2M1083.88,192.8h4.2M1085.98,185.2v7.6" stroke="#0000ff" stroke-width="1.35" fill="none"/>
<ellipse cx="1085.98" cy="189" rx="1.4" ry="1.7" fill="#0000ff"/>
<path d="M1083.88,206.5h4.2M1083.88,214.1h4.2M1085.98,206.5v7.6" stroke="#0000ff" stroke-width="1.35" fill="none"/>
<ellipse cx="1085.98" cy="210.3" rx="1.4" ry="1.7" fill="#0000ff"/>
<path d="M1083.88,238.9h4.2M1083.88,246.5h4.2M1085.98,238.9v7.6" stroke="#0000ff" stroke-width="1.35" fill="none"/>
<ellipse cx="1085.98" cy="242.7" rx="1.4" ry="1.7" fill="#0000ff"/>
<path d="M1083.88,268.6h4.2M1083.88,276.2h4.2M1085.98,268.6v7.6" stroke="#0000ff" stroke-width="1.35" fill="none"/>
<ellipse cx="1085.98" cy="272.4" rx="1.4" ry="1.7" fill="#0000ff"/>
<path d="M1083.88,280.2h4.2M1083.88,287.8h4.2M1085.98,280.2v7.6" stroke="#0000ff" stroke-width="1.35" fill="none"/>
<ellipse cx="1085.98" cy="284" rx="1.4" ry="1.7" fill="#0000ff"/>
<path d="M1083.88,299.2h4.2M1083.88,306.8h4.2M1085.98,299.2v7.6" stroke="#0000ff" stroke-width="1.35" fill="none"/>
<ellipse cx="1085.98" cy="303" rx="1.4" ry="1.7" fill="#0000ff"/>
<path d="M1083.88,306.2h4.2M1083.88,313.8h4.2M1085.98,306.2v7.6" stroke="#0000ff" stroke-width="1.35" fill="none"/>
<ellipse cx="1085.98" cy="310" rx="1.4" ry="1.7" fill="#0000ff"/>
<path d="M1083.88,313.2h4.2M1083.88,320.8h4.2M1085.98,313.2v7.6" stroke="#0000ff" stroke-width="1.35" fill="none"/>
<ellipse cx="1085.98" cy="317" rx="1.4" ry="1.7" fill="#0000ff"/>
<path d="M1083.88,323.2h4.2M1083.88,330.8h4.2M1085.98,323.2v7.6" stroke="#0000ff" stroke-width="1.35" fill="none"/>
<ellipse cx="1085.98" cy="327" rx="1.4" ry="1.7" fill="#0000ff"/>
<path d="M1083.88,328.2h4.2M1083.88,335.8h4.2M1085.98,328.2v7.6" stroke="#0000ff" stroke-width="1.35" fill="none"/>
<ellipse cx="1085.98" cy="332" rx="1.4" ry="1.7" fill="#0000ff"/>
<path d="M1083.88,349.2h4.2M1083.88,356.8h4.2M1085.98,349.2v7.6" stroke="#0000ff" stroke-width="1.35" fill="none"/>
<ellipse cx="1085.98" cy="353" rx="1.4" ry="1.7" fill="#0000ff"/>
<path d="M1083.88,362.2h4.2M1083.88,369.8h4.2M1085.98,362.2v7.6" stroke="#0000ff" stroke-width="1.35" fill="none"/>
<ellipse cx="1085.98" cy="366" rx="1.4" ry="1.7" fill="#0000ff"/>
<path d="M1083.88,367.2h4.2M1083.88,374.8h4.2M1085.98,367.2v7.6" stroke="#0000ff" stroke-width="1.35" fill="none"/>
<ellipse cx="1085.98" cy="371" rx="1.4" ry="1.7" fill="#0000ff"/>
<path d="M1083.88,372.2h4.2M1083.88,379.8h4.2M1085.98,372.2v7.6" stroke="#0000ff" stroke-width="1.35" fill="none"/>
<ellipse cx="1085.98" cy="376" rx="1.4" ry="1.7" fill="#0000ff"/>
<path d="M1083.88,377.2h4.2M1083.88,384.8h4.2M1085.98,377.2v7.6" stroke="#0000ff" stroke-width="1.35" fill="none"/>
<ellipse cx="1085.98" cy="381" rx="1.4" ry="1.7" fill="#0000ff"/>
<path d="M1083.88,382.2h4.2M1083.88,389.8h4.2M1085.98,382.2v7.6" stroke="#0000ff" stroke-width="1.35" fill="none"/>
<ellipse cx="1085.98" cy="386" rx="1.4" ry="1.7" fill="#0000ff"/>
<path d="M1083.88,388.2h4.2M1083.88,395.8h4.2M1085.98,388.2v7.6" stroke="#0000ff" stroke-width="1.35" fill="none"/>
<ellipse cx="1085.98" cy="392" rx="1.4" ry="1.7" fill="#0000ff"/>
<line x1="736" y1="25.2" x2="805.99" y2="153" stroke="#000" stroke-width="1.3" stroke-dasharray="1.3,0.95"/>
<line x1="736" y1="89.6" x2="805.99" y2="213.4" stroke="#000" stroke-width="1.3" stroke-dasharray="1.3,0.95"/>
<line x1="736" y1="125.2" x2="805.99" y2="226.6" stroke="#000" stroke-width="1.3" stroke-dasharray="1.3,0.95"/>
<line x1="736" y1="163" x2="805.99" y2="251.7" stroke="#000" stroke-width="1.3" stroke-dasharray="1.3,0.95"/>
<line x1="736" y1="191.2" x2="805.99" y2="261.7" stroke="#000" stroke-width="1.3" stroke-dasharray="1.3,0.95"/>
<line x1="736" y1="212.1" x2="805.99" y2="266.1" stroke="#000" stroke-width="1.3" stroke-dasharray="1.3,0.95"/>
<line x1="736" y1="225.4" x2="805.99" y2="270.6" stroke="#000" stroke-width="1.3" stroke-dasharray="1.3,0.95"/>
<line x1="736" y1="242.3" x2="805.99" y2="273.9" stroke="#000" stroke-width="1.3" stroke-dasharray="1.3,0.95"/>
<line x1="736" y1="248.3" x2="805.99" y2="278.3" stroke="#000" stroke-width="1.3" stroke-dasharray="1.3,0.95"/>
<line x1="736" y1="252.8" x2="805.99" y2="282.8" stroke="#000" stroke-width="1.3" stroke-dasharray="1.3,0.95"/>
<line x1="736" y1="257.2" x2="805.99" y2="287.7" stroke="#000" stroke-width="1.3" stroke-dasharray="1.3,0.95"/>
<line x1="736" y1="261.7" x2="805.99" y2="305.5" stroke="#000" stroke-width="1.3" stroke-dasharray="1.3,0.95"/>
<line x1="736" y1="265.4" x2="805.99" y2="311" stroke="#000" stroke-width="1.3" stroke-dasharray="1.3,0.95"/>
<line x1="736" y1="275.7" x2="805.99" y2="327" stroke="#000" stroke-width="1.3" stroke-dasharray="1.3,0.95"/>
<line x1="736" y1="292.8" x2="805.99" y2="333" stroke="#000" stroke-width="1.3" stroke-dasharray="1.3,0.95"/>
<line x1="736" y1="319" x2="805.99" y2="333" stroke="#000" stroke-width="1.3" stroke-dasharray="1.3,0.95"/>
<line x1="805.99" y1="105.8" x2="875.99" y2="185.6" stroke="#000" stroke-width="1.3" stroke-dasharray="1.3,0.95"/>
<line x1="805.99" y1="153" x2="875.99" y2="228.8" stroke="#000" stroke-width="1.3" stroke-dasharray="1.3,0.95"/>
<line x1="805.99" y1="197.8" x2="875.99" y2="255.5" stroke="#000" stroke-width="1.3" stroke-dasharray="1.3,0.95"/>
<line x1="805.99" y1="212.9" x2="875.99" y2="266.1" stroke="#000" stroke-width="1.3" stroke-dasharray="1.3,0.95"/>
<line x1="805.99" y1="226.7" x2="875.99" y2="275.3" stroke="#000" stroke-width="1.3" stroke-dasharray="1.3,0.95"/>
<line x1="805.99" y1="237.8" x2="875.99" y2="288.1" stroke="#000" stroke-width="1.3" stroke-dasharray="1.3,0.95"/>
<line x1="805.99" y1="252" x2="875.99" y2="292.3" stroke="#000" stroke-width="1.3" stroke-dasharray="1.3,0.95"/>
<line x1="805.99" y1="261.2" x2="875.99" y2="296.5" stroke="#000" stroke-width="1.3" stroke-dasharray="1.3,0.95"/>
<line x1="805.99" y1="266.1" x2="875.99" y2="300.8" stroke="#000" stroke-width="1.3" stroke-dasharray="1.3,0.95"/>
<line x1="805.99" y1="270.4" x2="875.99" y2="305" stroke="#000" stroke-width="1.3" stroke-dasharray="1.3,0.95"/>
<line x1="805.99" y1="274.6" x2="875.99" y2="328.6" stroke="#000" stroke-width="1.3" stroke-dasharray="1.3,0.95"/>
<line x1="805.99" y1="278.9" x2="875.99" y2="336.8" stroke="#000" stroke-width="1.3" stroke-dasharray="1.3,0.95"/>
<line x1="805.99" y1="283.1" x2="875.99" y2="343.6" stroke="#000" stroke-width="1.3" stroke-dasharray="1.3,0.95"/>
<line x1="805.99" y1="288.1" x2="875.99" y2="358" stroke="#000" stroke-width="1.3" stroke-dasharray="1.3,0.95"/>
<line x1="805.99" y1="305.7" x2="875.99" y2="361" stroke="#000" stroke-width="1.3" stroke-dasharray="1.3,0.95"/>
<line x1="805.99" y1="311" x2="875.99" y2="363" stroke="#000" stroke-width="1.3" stroke-dasharray="1.3,0.95"/>
<line x1="805.99" y1="327" x2="875.99" y2="364.5" stroke="#000" stroke-width="1.3" stroke-dasharray="1.3,0.95"/>
<line x1="805.99" y1="333" x2="875.99" y2="366" stroke="#000" stroke-width="1.3" stroke-dasharray="1.3,0.95"/>
<line x1="805.99" y1="336.7" x2="875.99" y2="367" stroke="#000" stroke-width="1.3" stroke-dasharray="1.3,0.95"/>
<line x1="875.99" y1="150.2" x2="945.99" y2="119.7" stroke="#000" stroke-width="1.3" stroke-dasharray="1.3,0.95"/>
<line x1="875.99" y1="185.6" x2="945.99" y2="187.6" stroke="#000" stroke-width="1.3" stroke-dasharray="1.3,0.95"/>
<line x1="875.99" y1="228.8" x2="945.99" y2="225.8" stroke="#000" stroke-width="1.3" stroke-dasharray="1.3,0.95"/>
<line x1="875.99" y1="255.5" x2="945.99" y2="272.1" stroke="#000" stroke-width="1.3" stroke-dasharray="1.3,0.95"/>
<line x1="875.99" y1="265.2" x2="945.99" y2="283.3" stroke="#000" stroke-width="1.3" stroke-dasharray="1.3,0.95"/>
<line x1="875.99" y1="275.8" x2="945.99" y2="295.5" stroke="#000" stroke-width="1.3" stroke-dasharray="1.3,0.95"/>
<line x1="875.99" y1="288.8" x2="945.99" y2="304.5" stroke="#000" stroke-width="1.3" stroke-dasharray="1.3,0.95"/>
<line x1="875.99" y1="294" x2="945.99" y2="315.2" stroke="#000" stroke-width="1.3" stroke-dasharray="1.3,0.95"/>
<line x1="875.99" y1="298.5" x2="945.99" y2="322.7" stroke="#000" stroke-width="1.3" stroke-dasharray="1.3,0.95"/>
<line x1="875.99" y1="303.6" x2="945.99" y2="329" stroke="#000" stroke-width="1.3" stroke-dasharray="1.3,0.95"/>
<line x1="875.99" y1="328.6" x2="945.99" y2="363.4" stroke="#000" stroke-width="1.3" stroke-dasharray="1.3,0.95"/>
<line x1="875.99" y1="337.6" x2="945.99" y2="368" stroke="#000" stroke-width="1.3" stroke-dasharray="1.3,0.95"/>
<line x1="875.99" y1="344.9" x2="945.99" y2="372" stroke="#000" stroke-width="1.3" stroke-dasharray="1.3,0.95"/>
<line x1="875.99" y1="358.3" x2="945.99" y2="376" stroke="#000" stroke-width="1.3" stroke-dasharray="1.3,0.95"/>
<line x1="875.99" y1="361" x2="945.99" y2="380" stroke="#000" stroke-width="1.3" stroke-dasharray="1.3,0.95"/>
<line x1="875.99" y1="364" x2="945.99" y2="384" stroke="#000" stroke-width="1.3" stroke-dasharray="1.3,0.95"/>
<line x1="875.99" y1="367" x2="945.99" y2="388.7" stroke="#000" stroke-width="1.3" stroke-dasharray="1.3,0.95"/>
<line x1="945.99" y1="119.7" x2="1015.98" y2="194.2" stroke="#000" stroke-width="1.3" stroke-dasharray="1.3,0.95"/>
<line x1="945.99" y1="187.6" x2="1015.98" y2="218.5" stroke="#000" stroke-width="1.3" stroke-dasharray="1.3,0.95"/>
<line x1="945.99" y1="225.8" x2="1015.98" y2="282.1" stroke="#000" stroke-width="1.3" stroke-dasharray="1.3,0.95"/>
<line x1="945.99" y1="272.1" x2="1015.98" y2="306.7" stroke="#000" stroke-width="1.3" stroke-dasharray="1.3,0.95"/>
<line x1="945.99" y1="283.3" x2="1015.98" y2="317.9" stroke="#000" stroke-width="1.3" stroke-dasharray="1.3,0.95"/>
<line x1="945.99" y1="295.5" x2="1015.98" y2="323.3" stroke="#000" stroke-width="1.3" stroke-dasharray="1.3,0.95"/>
<line x1="945.99" y1="304.5" x2="1015.98" y2="331.1" stroke="#000" stroke-width="1.3" stroke-dasharray="1.3,0.95"/>
<line x1="945.99" y1="315.2" x2="1015.98" y2="335.6" stroke="#000" stroke-width="1.3" stroke-dasharray="1.3,0.95"/>
<line x1="945.99" y1="328.9" x2="1015.98" y2="360" stroke="#000" stroke-width="1.3" stroke-dasharray="1.3,0.95"/>
<line x1="945.99" y1="351.3" x2="1015.98" y2="367.8" stroke="#000" stroke-width="1.3" stroke-dasharray="1.3,0.95"/>
<line x1="945.99" y1="365.6" x2="1015.98" y2="376.7" stroke="#000" stroke-width="1.3" stroke-dasharray="1.3,0.95"/>
<line x1="945.99" y1="371.1" x2="1015.98" y2="381" stroke="#000" stroke-width="1.3" stroke-dasharray="1.3,0.95"/>
<line x1="945.99" y1="377.8" x2="1015.98" y2="385" stroke="#000" stroke-width="1.3" stroke-dasharray="1.3,0.95"/>
<line x1="945.99" y1="383.3" x2="1015.98" y2="388.9" stroke="#000" stroke-width="1.3" stroke-dasharray="1.3,0.95"/>
<line x1="1015.98" y1="129" x2="1085.98" y2="189" stroke="#000" stroke-width="1.3" stroke-dasharray="1.3,0.95"/>
<line x1="1015.98" y1="194.2" x2="1085.98" y2="210.3" stroke="#000" stroke-width="1.3" stroke-dasharray="1.3,0.95"/>
<line x1="1015.98" y1="218.5" x2="1085.98" y2="242.7" stroke="#000" stroke-width="1.3" stroke-dasharray="1.3,0.95"/>
<line x1="1015.98" y1="243.6" x2="1085.98" y2="272.4" stroke="#000" stroke-width="1.3" stroke-dasharray="1.3,0.95"/>
<line x1="1015.98" y1="282.1" x2="1085.98" y2="284" stroke="#000" stroke-width="1.3" stroke-dasharray="1.3,0.95"/>
<line x1="1015.98" y1="296.7" x2="1085.98" y2="303" stroke="#000" stroke-width="1.3" stroke-dasharray="1.3,0.95"/>
<line x1="1015.98" y1="306.7" x2="1085.98" y2="312.2" stroke="#000" stroke-width="1.3" stroke-dasharray="1.3,0.95"/>
<line x1="1015.98" y1="323.3" x2="1085.98" y2="327.8" stroke="#000" stroke-width="1.3" stroke-dasharray="1.3,0.95"/>
<line x1="1015.98" y1="331.1" x2="1085.98" y2="353.3" stroke="#000" stroke-width="1.3" stroke-dasharray="1.3,0.95"/>
<line x1="1015.98" y1="335.6" x2="1085.98" y2="368.9" stroke="#000" stroke-width="1.3" stroke-dasharray="1.3,0.95"/>
<line x1="1015.98" y1="360" x2="1085.98" y2="376" stroke="#000" stroke-width="1.3" stroke-dasharray="1.3,0.95"/>
<line x1="1015.98" y1="367.8" x2="1085.98" y2="378.9" stroke="#000" stroke-width="1.3" stroke-dasharray="1.3,0.95"/>
<line x1="1015.98" y1="376.7" x2="1085.98" y2="383.3" stroke="#000" stroke-width="1.3" stroke-dasharray="1.3,0.95"/>
<line x1="1015.98" y1="381" x2="1085.98" y2="385.6" stroke="#000" stroke-width="1.3" stroke-dasharray="1.3,0.95"/>
<line x1="1015.98" y1="388.9" x2="1085.98" y2="387.8" stroke="#000" stroke-width="1.3" stroke-dasharray="1.3,0.95"/>
<rect x="676.6" y="8.0" width="456.7" height="413.2" fill="none" stroke="#6e6e6e" stroke-width="1.3"/>
<line x1="730.33" y1="421.2" x2="730.33" y2="416.2" stroke="#6e6e6e" stroke-width="1.1"/>
<line x1="730.33" y1="8" x2="730.33" y2="13" stroke="#6e6e6e" stroke-width="1.1"/>
<line x1="864.65" y1="421.2" x2="864.65" y2="416.2" stroke="#6e6e6e" stroke-width="1.1"/>
<line x1="864.65" y1="8" x2="864.65" y2="13" stroke="#6e6e6e" stroke-width="1.1"/>
<line x1="998.98" y1="421.2" x2="998.98" y2="416.2" stroke="#6e6e6e" stroke-width="1.1"/>
<line x1="998.98" y1="8" x2="998.98" y2="13" stroke="#6e6e6e" stroke-width="1.1"/>
<line x1="676.6" y1="346.07" x2="681.6" y2="346.07" stroke="#6e6e6e" stroke-width="1.1"/>
<line x1="1133.3" y1="346.07" x2="1128.3" y2="346.07" stroke="#6e6e6e" stroke-width="1.1"/>
<line x1="676.6" y1="270.95" x2="681.6" y2="270.95" stroke="#6e6e6e" stroke-width="1.1"/>
<line x1="1133.3" y1="270.95" x2="1128.3" y2="270.95" stroke="#6e6e6e" stroke-width="1.1"/>
<line x1="676.6" y1="195.82" x2="681.6" y2="195.82" stroke="#6e6e6e" stroke-width="1.1"/>
<line x1="1133.3" y1="195.82" x2="1128.3" y2="195.82" stroke="#6e6e6e" stroke-width="1.1"/>
<line x1="676.6" y1="120.69" x2="681.6" y2="120.69" stroke="#6e6e6e" stroke-width="1.1"/>
<line x1="1133.3" y1="120.69" x2="1128.3" y2="120.69" stroke="#6e6e6e" stroke-width="1.1"/>
<line x1="676.6" y1="45.56" x2="681.6" y2="45.56" stroke="#6e6e6e" stroke-width="1.1"/>
<line x1="1133.3" y1="45.56" x2="1128.3" y2="45.56" stroke="#6e6e6e" stroke-width="1.1"/>
<text x="668.9" y="54.76" font-size="26" text-anchor="end" style="font-family:'Liberation Serif',serif">0.14</text>
<text x="668.9" y="129.89" font-size="26" text-anchor="end" style="font-family:'Liberation Serif',serif">0.12</text>
<text x="668.9" y="205.02" font-size="26" text-anchor="end" style="font-family:'Liberation Serif',serif">0.10</text>
<text x="668.9" y="280.15" font-size="26" text-anchor="end" style="font-family:'Liberation Serif',serif">0.08</text>
<text x="668.9" y="355.27" font-size="26" text-anchor="end" style="font-family:'Liberation Serif',serif">0.06</text>
<text x="668.9" y="430.4" font-size="26" text-anchor="end" style="font-family:'Liberation Serif',serif">0.04</text>
<text x="730.33" y="449.5" font-size="26" text-anchor="middle" style="font-family:'Liberation Serif',serif">5</text>
<text x="864.65" y="449.5" font-size="26" text-anchor="middle" style="font-family:'Liberation Serif',serif">10</text>
<text x="998.98" y="449.5" font-size="26" text-anchor="middle" style="font-family:'Liberation Serif',serif">15</text>
<text x="1133.3" y="449.5" font-size="26" text-anchor="middle" style="font-family:'Liberation Serif',serif">20</text>
<text x="906" y="488.6" font-size="29" text-anchor="middle" style="font-family:'Liberation Serif',serif;font-style:italic">Fr</text>
<text x="575.5" y="26" font-size="29.5" style="font-family:'Liberation Serif',serif">(<tspan font-style="italic">b</tspan>)</text>
<circle cx="1084" cy="27.6" r="3.1" fill="#fff" stroke="#ff0000" stroke-width="1.5"/>
<text x="1095.7" y="33.4" font-size="18" text-anchor="start" style="font-family:'Liberation Serif',serif">TV</text>
<ellipse cx="1083.8" cy="50.9" rx="1.5" ry="1.5" fill="#0000ff"/>
<text x="1095.7" y="56.8" font-size="18" text-anchor="start" style="font-family:'Liberation Serif',serif">RJ</text>
<rect x="1128" y="124.5" width="34" height="286" fill="#fff"/>
<text x="677.7" y="31.4" font-size="16.2" style="font-family:'Liberation Serif',serif;font-style:italic">C</text>
<text x="687.5" y="34.7" font-size="11.2" style="font-family:'Liberation Serif',serif;font-style:italic">q</text>
<path d="M697.1,26.3H707.4M697.1,29.5H707.4" stroke="#000" stroke-width="1.05"/>
<text x="710.9" y="31.4" font-size="16.2" style="font-family:'Liberation Serif',serif">0.2</text>
<text x="678.6" y="93.8" font-size="16.2" style="font-family:'Liberation Serif',serif;font-style:italic">C</text>
<text x="688.4" y="97.1" font-size="11.2" style="font-family:'Liberation Serif',serif;font-style:italic">q</text>
<path d="M698,88.7H708.3M698,91.9H708.3" stroke="#000" stroke-width="1.05"/>
<text x="711.8" y="93.8" font-size="16.2" style="font-family:'Liberation Serif',serif">0.3</text>
<text x="679.1" y="119.3" font-size="16.2" style="font-family:'Liberation Serif',serif;font-style:italic">C</text>
<text x="688.9" y="122.6" font-size="11.2" style="font-family:'Liberation Serif',serif;font-style:italic">q</text>
<path d="M698.5,114.2H708.8M698.5,117.4H708.8" stroke="#000" stroke-width="1.05"/>
<text x="712.3" y="119.3" font-size="16.2" style="font-family:'Liberation Serif',serif">0.35</text>
<text x="682.5" y="153.7" font-size="16.2" style="font-family:'Liberation Serif',serif;font-style:italic">C</text>
<text x="692.3" y="157" font-size="11.2" style="font-family:'Liberation Serif',serif;font-style:italic">q</text>
<path d="M701.9,148.6H712.2M701.9,151.8H712.2" stroke="#000" stroke-width="1.05"/>
<text x="715.7" y="153.7" font-size="16.2" style="font-family:'Liberation Serif',serif">0.45</text>
<text x="681.2" y="183.6" font-size="16.2" style="font-family:'Liberation Serif',serif;font-style:italic">C</text>
<text x="691" y="186.9" font-size="11.2" style="font-family:'Liberation Serif',serif;font-style:italic">q</text>
<path d="M700.6,178.5H710.9M700.6,181.7H710.9" stroke="#000" stroke-width="1.05"/>
<text x="714.4" y="183.6" font-size="16.2" style="font-family:'Liberation Serif',serif">0.5</text>
<text x="677.5" y="210.8" font-size="16.2" style="font-family:'Liberation Serif',serif;font-style:italic">C</text>
<text x="687.3" y="214.1" font-size="11.2" style="font-family:'Liberation Serif',serif;font-style:italic">q</text>
<path d="M696.9,205.7H707.2M696.9,208.9H707.2" stroke="#000" stroke-width="1.05"/>
<text x="710.7" y="210.8" font-size="16.2" style="font-family:'Liberation Serif',serif">0.6</text>
<text x="677.2" y="228.4" font-size="16.2" style="font-family:'Liberation Serif',serif;font-style:italic">C</text>
<text x="687" y="231.7" font-size="11.2" style="font-family:'Liberation Serif',serif;font-style:italic">q</text>
<path d="M696.6,223.3H706.9M696.6,226.5H706.9" stroke="#000" stroke-width="1.05"/>
<text x="710.4" y="228.4" font-size="16.2" style="font-family:'Liberation Serif',serif">0.7</text>
<text x="677.2" y="246.6" font-size="16.2" style="font-family:'Liberation Serif',serif;font-style:italic">C</text>
<text x="687" y="249.9" font-size="11.2" style="font-family:'Liberation Serif',serif;font-style:italic">q</text>
<path d="M696.6,241.5H706.9M696.6,244.7H706.9" stroke="#000" stroke-width="1.05"/>
<text x="710.4" y="246.6" font-size="16.2" style="font-family:'Liberation Serif',serif">0.8</text>
<text x="677.2" y="264.2" font-size="16.2" style="font-family:'Liberation Serif',serif;font-style:italic">C</text>
<text x="687" y="267.5" font-size="11.2" style="font-family:'Liberation Serif',serif;font-style:italic">q</text>
<path d="M696.6,259.1H706.9M696.6,262.3H706.9" stroke="#000" stroke-width="1.05"/>
<text x="710.4" y="264.2" font-size="16.2" style="font-family:'Liberation Serif',serif">0.9</text>
<text x="677.2" y="282.4" font-size="16.2" style="font-family:'Liberation Serif',serif;font-style:italic">C</text>
<text x="687" y="285.7" font-size="11.2" style="font-family:'Liberation Serif',serif;font-style:italic">q</text>
<path d="M696.6,277.3H706.9M696.6,280.5H706.9" stroke="#000" stroke-width="1.05"/>
<text x="710.4" y="282.4" font-size="16.2" style="font-family:'Liberation Serif',serif">1.1</text>
<text x="677.2" y="303.3" font-size="16.2" style="font-family:'Liberation Serif',serif;font-style:italic">C</text>
<text x="687" y="306.6" font-size="11.2" style="font-family:'Liberation Serif',serif;font-style:italic">q</text>
<path d="M696.6,298.2H706.9M696.6,301.4H706.9" stroke="#000" stroke-width="1.05"/>
<text x="710.4" y="303.3" font-size="16.2" style="font-family:'Liberation Serif',serif">1.5</text>
<text x="677.2" y="329.9" font-size="16.2" style="font-family:'Liberation Serif',serif;font-style:italic">C</text>
<text x="687" y="333.2" font-size="11.2" style="font-family:'Liberation Serif',serif;font-style:italic">q</text>
<path d="M696.6,324.8H706.9M696.6,328H706.9" stroke="#000" stroke-width="1.05"/>
<text x="710.4" y="329.9" font-size="16.2" style="font-family:'Liberation Serif',serif">1.9</text>
<text x="1058.3" y="128.6" font-size="16.2" style="font-family:'Liberation Serif',serif;font-style:italic">C</text>
<text x="1068.5" y="131.9" font-size="11.2" style="font-family:'Liberation Serif',serif;font-style:italic">q</text>
<path d="M1078.8,123.5H1089.7M1078.8,126.7H1089.7" stroke="#000" stroke-width="1.05"/>
<text x="1093.2" y="128.6" font-size="16.2" style="font-family:'Liberation Serif',serif">0.08</text>
<text x="1071.2" y="170" font-size="16.2" style="font-family:'Liberation Serif',serif;font-style:italic">C</text>
<text x="1081.4" y="173.3" font-size="11.2" style="font-family:'Liberation Serif',serif;font-style:italic">q</text>
<path d="M1091.7,164.9H1102.6M1091.7,168.1H1102.6" stroke="#000" stroke-width="1.05"/>
<text x="1106.1" y="170" font-size="16.2" style="font-family:'Liberation Serif',serif">0.09</text>
<text x="1099.3" y="213.6" font-size="16.2" style="font-family:'Liberation Serif',serif;font-style:italic">C</text>
<text x="1109.5" y="216.9" font-size="11.2" style="font-family:'Liberation Serif',serif;font-style:italic">q</text>
<path d="M1119.8,208.5H1130.7M1119.8,211.7H1130.7" stroke="#000" stroke-width="1.05"/>
<text x="1134.2" y="213.6" font-size="16.2" style="font-family:'Liberation Serif',serif">0.1</text>
<text x="1099.3" y="232.4" font-size="16.2" style="font-family:'Liberation Serif',serif;font-style:italic">C</text>
<text x="1109.5" y="235.7" font-size="11.2" style="font-family:'Liberation Serif',serif;font-style:italic">q</text>
<path d="M1119.8,227.3H1130.7M1119.8,230.5H1130.7" stroke="#000" stroke-width="1.05"/>
<text x="1134.2" y="232.4" font-size="16.2" style="font-family:'Liberation Serif',serif">0.15</text>
<text x="1099.3" y="262.8" font-size="16.2" style="font-family:'Liberation Serif',serif;font-style:italic">C</text>
<text x="1109.5" y="266.1" font-size="11.2" style="font-family:'Liberation Serif',serif;font-style:italic">q</text>
<path d="M1119.8,257.7H1130.7M1119.8,260.9H1130.7" stroke="#000" stroke-width="1.05"/>
<text x="1134.2" y="262.8" font-size="16.2" style="font-family:'Liberation Serif',serif">0.17</text>
<text x="1099.3" y="290.3" font-size="16.2" style="font-family:'Liberation Serif',serif;font-style:italic">C</text>
<text x="1109.5" y="293.6" font-size="11.2" style="font-family:'Liberation Serif',serif;font-style:italic">q</text>
<path d="M1119.8,285.2H1130.7M1119.8,288.4H1130.7" stroke="#000" stroke-width="1.05"/>
<text x="1134.2" y="290.3" font-size="16.2" style="font-family:'Liberation Serif',serif">0.2</text>
<text x="1099" y="328.3" font-size="16.2" style="font-family:'Liberation Serif',serif;font-style:italic">C</text>
<text x="1109.2" y="331.6" font-size="11.2" style="font-family:'Liberation Serif',serif;font-style:italic">q</text>
<path d="M1119.5,323.2H1130.4M1119.5,326.4H1130.4" stroke="#000" stroke-width="1.05"/>
<text x="1133.9" y="328.3" font-size="16.2" style="font-family:'Liberation Serif',serif">0.3</text>
<text x="1099" y="348.6" font-size="16.2" style="font-family:'Liberation Serif',serif;font-style:italic">C</text>
<text x="1109.2" y="351.9" font-size="11.2" style="font-family:'Liberation Serif',serif;font-style:italic">q</text>
<path d="M1119.5,343.5H1130.4M1119.5,346.7H1130.4" stroke="#000" stroke-width="1.05"/>
<text x="1133.9" y="348.6" font-size="16.2" style="font-family:'Liberation Serif',serif">0.35</text>
<text x="1099" y="366.9" font-size="16.2" style="font-family:'Liberation Serif',serif;font-style:italic">C</text>
<text x="1109.2" y="370.2" font-size="11.2" style="font-family:'Liberation Serif',serif;font-style:italic">q</text>
<path d="M1119.5,361.8H1130.4M1119.5,365H1130.4" stroke="#000" stroke-width="1.05"/>
<text x="1133.9" y="366.9" font-size="16.2" style="font-family:'Liberation Serif',serif">0.4</text>
<text x="1099" y="385.3" font-size="16.2" style="font-family:'Liberation Serif',serif;font-style:italic">C</text>
<text x="1109.2" y="388.6" font-size="11.2" style="font-family:'Liberation Serif',serif;font-style:italic">q</text>
<path d="M1119.5,380.2H1130.4M1119.5,383.4H1130.4" stroke="#000" stroke-width="1.05"/>
<text x="1133.9" y="385.3" font-size="16.2" style="font-family:'Liberation Serif',serif">0.5</text>
<text x="1099" y="407.9" font-size="16.2" style="font-family:'Liberation Serif',serif;font-style:italic">C</text>
<text x="1109.2" y="411.2" font-size="11.2" style="font-family:'Liberation Serif',serif;font-style:italic">q</text>
<path d="M1119.5,402.8H1130.4M1119.5,406H1130.4" stroke="#000" stroke-width="1.05"/>
<text x="1133.9" y="407.9" font-size="16.2" style="font-family:'Liberation Serif',serif">0.8</text>
<text x="709.2" y="352" font-size="16.2" style="font-family:'Liberation Serif',serif;font-style:italic">C</text>
<text x="719.4" y="355.3" font-size="11.2" style="font-family:'Liberation Serif',serif;font-style:italic">q</text>
<path d="M729.7,346.9H740.6M729.7,350.1H740.6" stroke="#000" stroke-width="1.05"/>
<text x="744.1" y="352" font-size="16.2" style="font-family:'Liberation Serif',serif">2.8</text>
<text x="776.5" y="359" font-size="16.2" style="font-family:'Liberation Serif',serif;font-style:italic">C</text>
<text x="786.7" y="362.3" font-size="11.2" style="font-family:'Liberation Serif',serif;font-style:italic">q</text>
<path d="M797,353.9H807.9M797,357.1H807.9" stroke="#000" stroke-width="1.05"/>
<text x="811.4" y="359" font-size="16.2" style="font-family:'Liberation Serif',serif">1.9</text>
<text x="845.4" y="388.3" font-size="16.2" style="font-family:'Liberation Serif',serif;font-style:italic">C</text>
<text x="855.6" y="391.6" font-size="11.2" style="font-family:'Liberation Serif',serif;font-style:italic">q</text>
<path d="M865.9,383.2H876.8M865.9,386.4H876.8" stroke="#000" stroke-width="1.05"/>
<text x="880.3" y="388.3" font-size="16.2" style="font-family:'Liberation Serif',serif">1.5</text>
<text x="921" y="405.2" font-size="16.2" style="font-family:'Liberation Serif',serif;font-style:italic">C</text>
<text x="931.2" y="408.5" font-size="11.2" style="font-family:'Liberation Serif',serif;font-style:italic">q</text>
<path d="M941.5,400.1H952.4M941.5,403.3H952.4" stroke="#000" stroke-width="1.05"/>
<text x="955.9" y="405.2" font-size="16.2" style="font-family:'Liberation Serif',serif">1.1</text>
<text x="992.2" y="411.8" font-size="16.2" style="font-family:'Liberation Serif',serif;font-style:italic">C</text>
<text x="1002.4" y="415.1" font-size="11.2" style="font-family:'Liberation Serif',serif;font-style:italic">q</text>
<path d="M1012.7,406.7H1023.6M1012.7,409.9H1023.6" stroke="#000" stroke-width="1.05"/>
<text x="1027.1" y="411.8" font-size="16.2" style="font-family:'Liberation Serif',serif">0.9</text>
</svg>
</body></html>
